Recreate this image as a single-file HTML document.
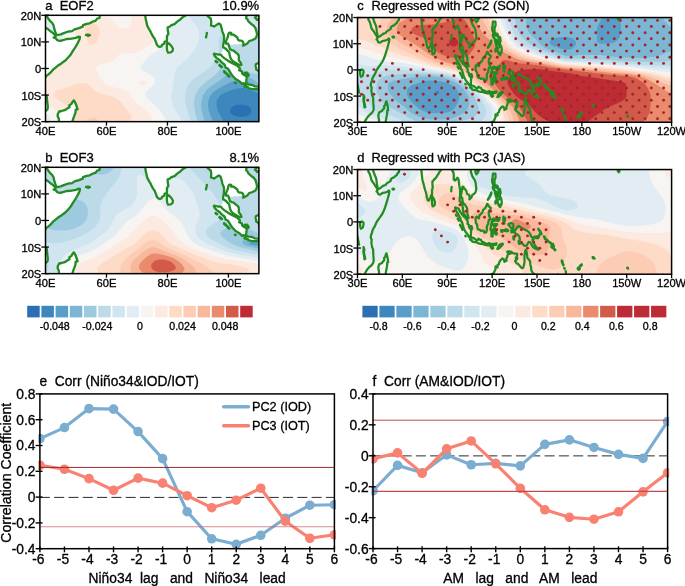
<!DOCTYPE html>
<html><head><meta charset="utf-8"><title>figure</title><style>html,body{margin:0;padding:0;background:#fff;}svg{display:block;will-change:transform;}text{font-family:'Liberation Sans', sans-serif;fill:#000;stroke:#000;stroke-width:0.3px;}</style>
</head><body>
<svg width="685" height="586" viewBox="0 0 685 586">
<rect width="685" height="586" fill="#fff"/>
<clipPath id="mca"><rect x="45.50" y="15.30" width="213.40" height="106.35"/></clipPath>
<g clip-path="url(#mca)">
<rect x="45.5" y="15.3" width="213.4" height="106.4" fill="#f7f4f2"/>
<g fill-rule="evenodd" stroke="none">
<path d="M60.7,121.7 152.2,121.7 152.3,120.3 151.7,117.7 150.7,115.7 149.2,113.7 145.1,109.7 138.0,104.4 135.0,101.7 132.6,99.1 128.8,93.7 126.3,91.2 124.8,90.3 121.7,89.1 113.2,87.1 109.5,85.9 106.5,84.4 103.4,81.9 101.0,79.1 98.4,75.1 96.5,71.1 96.0,68.5 96.3,67.1 97.2,65.8 98.8,64.7 101.9,63.6 109.3,61.8 112.4,60.5 114.4,59.2 118.7,54.9 120.2,53.7 121.7,53.0 124.8,52.6 132.4,53.2 135.4,52.9 137.0,52.4 140.0,50.8 150.2,44.5 153.6,41.9 155.4,39.2 156.2,36.6 156.4,33.9 156.3,29.9 155.3,24.6 154.0,20.6 152.2,17.4 150.2,15.3 130.5,15.3 131.4,16.6 131.9,18.0 132.0,19.3 131.9,20.6 131.0,23.3 129.3,25.6 127.8,26.9 126.3,27.8 123.2,28.6 121.7,28.6 120.2,28.2 118.7,27.5 116.9,25.9 112.8,20.6 111.4,19.3 109.5,18.1 105.6,16.6 100.3,15.3 68.1,15.3 68.2,19.3 68.8,21.9 70.0,24.6 74.5,32.2 75.9,36.6 76.2,40.6 75.6,43.2 75.0,44.5 72.9,47.2 71.4,48.4 68.4,50.3 65.3,51.9 59.2,54.6 53.1,56.9 48.5,58.0 45.5,58.4 45.5,103.1 54.6,109.3 58.1,112.3 60.0,115.0 61.0,117.7 61.1,120.3 60.7,121.7ZM143.1,84.5 144.6,84.3 146.1,83.5 146.6,83.1 146.5,81.8 144.6,80.8 143.1,80.6 141.5,80.8 139.6,81.8 139.4,83.1 140.0,83.6 141.5,84.3 143.1,84.5Z" fill="#fce9df"/>
<path d="M72.9,121.7 129.2,121.7 131.0,119.0 131.5,117.7 131.5,116.3 131.1,115.0 130.2,113.7 126.3,109.2 121.7,103.0 119.3,100.4 117.6,99.1 115.4,97.7 112.6,96.6 101.9,94.0 97.4,92.4 94.3,90.3 89.7,85.6 88.2,84.3 85.1,82.9 82.1,82.7 79.0,83.3 72.0,85.8 59.3,89.7 56.2,91.4 55.1,92.4 54.3,93.7 54.2,95.1 54.7,96.4 55.8,97.7 59.1,100.4 65.3,104.6 68.0,107.0 69.9,109.5 71.3,112.3 72.1,115.0 72.6,119.0 72.5,121.7 72.9,121.7ZM91.2,44.6 92.8,44.7 94.3,44.3 95.8,43.2 97.3,40.7 98.8,36.6 99.6,32.6 99.6,29.9 98.8,27.3 97.8,25.9 96.1,24.6 89.8,21.9 87.7,20.6 86.7,18.9 85.8,15.3 74.0,15.3 76.0,18.3 77.5,19.6 82.9,23.3 83.8,24.6 84.7,27.3 86.3,36.6 87.5,40.6 88.2,42.1 89.1,43.2 89.7,43.8 91.2,44.6Z" fill="#fddbc7"/>
<path d="M85.1,121.7 97.4,121.7 97.3,120.3 96.8,119.0 95.8,118.0 94.3,117.5 92.8,117.5 89.7,118.2 88.2,119.0 86.7,120.0 85.1,121.3 84.9,121.7 85.1,121.7Z" fill="#fcccb4"/>
<path d="M47.0,121.7 50.1,121.7 50.1,119.0 49.5,117.7 48.7,116.3 47.4,115.0 45.5,113.6 45.5,121.7 47.0,121.7ZM167.4,121.6 258.9,121.7 258.9,15.3 165.7,15.3 164.5,16.6 163.5,19.3 163.2,21.9 163.4,25.9 165.0,39.2 164.8,41.9 164.0,44.5 162.9,46.4 160.8,48.5 158.9,49.9 152.2,53.8 149.0,56.5 141.8,64.5 140.9,65.8 140.3,67.1 140.4,68.5 141.4,69.8 143.5,71.1 149.2,73.9 152.2,76.1 153.7,77.8 154.5,79.1 154.9,80.4 155.0,81.8 154.7,83.1 153.9,84.4 152.8,85.8 148.1,89.7 146.0,92.4 145.5,93.7 145.4,95.1 145.8,96.4 147.7,99.1 155.2,105.6 158.3,108.7 161.1,112.3 165.4,119.0 167.4,121.6ZM47.0,46.0 51.6,45.6 56.2,44.4 58.8,43.2 60.7,41.9 62.3,39.9 62.9,37.9 62.9,36.6 62.3,33.9 60.7,28.6 60.5,24.6 61.3,20.6 63.3,15.3 45.5,15.3 45.5,45.9 47.0,46.0Z" fill="#e2edf3"/>
<path d="M182.7,121.7 258.9,121.7 258.9,15.3 188.4,15.3 191.8,20.3 196.3,25.9 197.9,28.6 198.5,29.9 199.0,32.6 199.1,35.2 198.6,39.2 197.9,41.9 196.4,46.0 194.2,49.9 191.5,53.9 189.3,56.5 186.7,59.2 178.1,66.5 176.6,68.4 175.8,69.8 174.5,73.8 173.4,83.1 171.3,95.1 171.3,97.7 171.6,100.4 173.2,105.7 175.9,111.0 182.7,121.7ZM50.1,18.0 51.6,18.3 53.1,18.1 54.6,17.5 57.7,15.3 47.8,15.3 48.5,16.8 50.1,18.0Z" fill="#d1e5f0"/>
<path d="M191.8,121.7 258.9,121.7 258.9,28.6 256.0,27.3 249.8,22.9 248.2,22.3 246.7,22.0 243.7,22.2 240.6,23.1 237.6,24.4 229.9,28.2 225.4,31.3 223.8,32.7 221.5,35.2 220.6,36.6 219.3,39.2 218.6,41.9 218.6,44.5 219.3,51.2 218.9,53.9 217.9,56.5 215.4,60.5 211.6,65.6 208.6,68.7 205.4,71.1 195.1,77.8 191.8,80.4 190.3,81.9 188.4,84.4 186.4,88.4 185.7,91.1 185.1,95.1 185.1,99.1 185.5,103.0 186.6,108.4 188.5,115.0 191.0,121.7 191.8,121.7Z" fill="#bddae9"/>
<path d="M197.9,121.7 258.9,121.7 258.9,74.2 249.8,72.6 244.9,71.1 240.6,69.1 234.5,64.4 233.0,63.5 231.5,63.0 229.9,62.8 228.4,62.9 226.9,63.4 223.8,65.2 220.8,68.1 217.3,72.5 214.7,75.2 211.7,77.8 204.4,83.1 201.4,85.8 198.1,89.7 195.9,93.7 195.0,96.4 194.4,99.1 194.2,101.7 194.2,105.7 194.6,109.7 195.4,113.7 196.5,117.7 197.9,121.7ZM258.9,71.0 258.9,68.5 258.9,71.0Z" fill="#9ecae0"/>
<path d="M205.5,121.7 258.9,121.7 258.9,84.4 254.3,80.0 251.3,78.2 248.2,77.0 239.1,74.7 233.0,73.6 229.9,73.6 228.4,74.0 226.9,74.8 219.8,80.4 211.6,85.7 208.6,88.1 205.7,91.1 203.2,95.1 202.2,97.7 201.4,101.7 201.2,104.4 201.3,108.4 202.0,112.3 203.1,116.3 205.1,121.7 205.5,121.7Z" fill="#7cb6d5"/>
<path d="M213.2,121.7 258.9,121.7 258.9,88.6 251.3,83.5 248.2,81.9 243.7,80.7 240.6,80.3 237.6,80.4 234.5,80.9 229.9,82.6 219.3,88.0 214.7,90.9 211.7,93.7 209.9,96.4 208.8,99.1 208.1,103.0 208.2,107.0 208.9,111.0 210.2,115.0 213.2,121.7Z" fill="#589ec9"/>
<path d="M223.8,121.7 258.9,121.7 258.9,92.9 254.3,91.8 245.2,88.3 242.1,87.9 240.6,87.9 236.0,88.7 228.7,91.1 223.8,93.2 220.8,95.1 219.3,96.4 217.5,99.1 216.6,101.7 216.5,105.7 217.5,109.7 218.6,112.3 223.6,121.7 223.8,121.7Z" fill="#3c88be"/>
<path d="M237.6,116.5 240.6,116.9 243.7,116.8 246.7,116.0 248.2,115.2 250.0,113.7 250.8,112.3 251.1,111.0 251.1,109.7 250.5,108.4 249.8,107.4 248.2,106.3 245.2,105.3 242.1,104.7 237.6,104.8 236.0,105.1 233.0,106.5 231.5,107.8 230.2,109.7 229.9,111.0 230.3,112.3 231.4,113.7 233.0,114.8 234.5,115.6 237.6,116.5Z" fill="#2a70b2"/>
</g>
<path d="M228.1,43.7 L226.0,43.7 L226.0,41.1 L227.2,38.4 L228.1,36.0 L228.4,33.9 L229.3,32.6 L231.2,32.8 L231.2,34.7 L233.6,34.7 L235.4,36.0 L237.3,37.4 L237.9,39.5 L239.4,40.6 L241.8,40.7 L243.0,41.9 L242.4,43.7 L236.0,44.3 L230.2,44.8Z" fill="#fff"/>
<path d="M220.8,54.6 L223.2,48.3 L224.5,48.0 L226.3,49.3 L227.5,50.7 L229.0,51.7 L229.5,53.9 L230.2,57.3 L231.5,59.7 L232.7,61.0 L235.1,62.6 L238.8,64.8 L240.3,65.0 L240.0,68.5 L238.8,67.1 L237.3,65.8 L233.9,64.0 L231.8,62.9 L229.6,61.8 L227.8,60.5 L224.5,58.4 L222.3,56.5Z" fill="#fff"/>
<g stroke="#228b22" stroke-width="2.3" stroke-linejoin="round" stroke-linecap="round">
<path d="M-15.5,2.0 L37.0,2.0 L37.0,14.0 L37.3,17.4 L40.3,20.1 L42.1,23.3 L43.4,25.9 L45.2,27.5 L47.9,29.1 L50.7,31.5 L53.1,33.1 L55.0,35.0 L55.6,36.6 L53.7,37.6 L55.6,38.2 L57.4,40.3 L60.4,40.8 L63.8,39.9 L66.8,39.0 L69.9,38.8 L72.9,38.4 L76.0,37.9 L78.4,36.7 L79.9,37.0 L79.6,39.0 L78.7,41.1 L77.2,44.0 L75.4,47.2 L73.2,50.4 L70.8,54.4 L68.4,57.3 L65.3,60.5 L61.7,63.2 L57.7,65.8 L53.4,69.3 L50.4,72.7 L48.2,74.6 L46.1,76.2 L44.3,79.6 L42.8,81.8 L41.8,84.4 L44.0,86.6 L43.4,89.2 L44.0,91.9 L44.9,94.5 L46.7,96.4 L47.0,99.1 L47.3,103.0 L47.9,107.0 L47.3,109.7 L44.3,112.1 L39.7,114.2 L36.0,116.1 L32.1,119.0 L29.6,121.4 L29.0,124.3 L29.0,134.9 L-15.5,134.9Z" fill="#fff"/>
<path d="M43.1,2.0 L43.1,13.7 L46.1,15.3 L47.9,18.0 L49.8,20.6 L51.9,22.7 L53.4,24.9 L54.0,27.3 L54.6,29.9 L55.6,32.8 L56.2,34.7 L58.0,35.0 L60.7,34.4 L63.8,33.1 L68.4,31.5 L72.0,31.1 L74.5,29.4 L79.0,28.1 L82.7,26.7 L83.0,25.1 L86.7,23.8 L89.7,23.3 L92.1,21.9 L95.2,20.9 L97.3,18.5 L99.5,18.0 L99.8,15.3 L101.9,13.7 L103.4,2.0 L144.6,2.0 L145.2,13.7 L145.3,15.3 L145.5,18.0 L146.4,21.9 L147.3,25.9 L148.8,28.6 L150.4,31.3 L151.6,33.9 L153.1,36.6 L154.6,38.7 L155.9,41.9 L156.8,44.5 L158.0,46.1 L159.8,47.0 L161.7,46.1 L162.0,44.8 L164.4,43.7 L164.4,41.9 L166.8,41.1 L167.0,37.9 L166.8,36.6 L168.4,33.6 L167.7,29.9 L167.7,27.3 L169.9,26.5 L171.4,25.1 L174.5,24.1 L177.5,21.4 L179.9,19.8 L182.7,17.2 L185.1,15.8 L187.3,14.8 L188.8,12.6 L188.8,2.0 L205.5,2.0 L205.5,12.6 L206.8,14.8 L208.6,16.9 L210.7,18.5 L211.3,21.9 L211.0,25.4 L214.1,26.5 L216.2,25.1 L218.7,23.5 L220.5,24.6 L221.4,27.3 L222.3,31.3 L223.8,35.2 L224.1,37.9 L223.8,41.9 L223.2,44.5 L223.1,47.2 L224.5,48.0 L226.3,49.3 L227.5,50.7 L229.0,51.7 L229.5,53.9 L230.2,57.3 L231.5,59.7 L232.7,61.0 L235.1,62.6 L238.8,64.8 L240.3,65.0 L241.4,64.8 L240.6,62.4 L238.9,60.5 L238.8,57.8 L238.8,55.7 L237.9,54.1 L235.1,52.0 L233.6,50.7 L231.5,50.1 L229.9,49.1 L229.0,46.1 L228.1,43.7 L226.0,43.7 L226.0,41.1 L227.2,38.4 L228.1,36.0 L228.4,33.9 L229.3,32.6 L231.2,32.8 L231.2,34.7 L233.6,34.7 L235.4,36.0 L237.3,37.4 L237.9,39.5 L239.4,40.6 L241.8,40.7 L243.0,41.9 L243.7,44.5 L243.0,45.6 L244.6,45.1 L247.6,43.2 L249.1,41.1 L252.5,40.0 L255.5,38.4 L256.5,36.6 L257.1,34.2 L256.5,31.8 L255.5,28.1 L253.7,25.7 L251.6,24.3 L249.8,22.7 L248.2,21.1 L247.6,19.6 L246.1,18.0 L246.4,15.8 L248.5,14.5 L249.8,12.6 L249.8,2.0Z" fill="#fff"/>
<path d="M86.0,35.0 L87.9,34.6 L89.9,35.1 L87.9,35.8Z" fill="#fff"/>
<path d="M167.1,42.4 L168.4,43.2 L171.1,45.6 L172.9,48.5 L172.6,50.9 L170.8,52.3 L168.1,52.7 L167.1,50.4 L166.8,47.2 L167.1,44.8Z" fill="#fff"/>
<path d="M254.9,17.4 L257.4,20.1 L260.4,18.5 L261.9,16.4 L260.7,15.0 L257.4,15.6Z" fill="#fff"/>
<path d="M73.9,100.4 L75.7,103.6 L76.9,107.0 L77.5,109.4 L75.7,109.7 L75.4,112.9 L74.5,115.3 L73.5,117.9 L72.3,121.7 L71.4,124.3 L69.9,134.9 L59.2,134.9 L58.6,124.3 L58.9,121.7 L58.9,119.0 L57.7,116.3 L57.7,114.2 L59.2,111.5 L61.7,111.0 L64.7,110.2 L67.4,108.4 L69.6,107.3 L69.3,105.2 L71.4,104.1 L72.6,101.7Z" fill="#fff"/>
<path d="M206.9,32.8 L206.5,35.0 L206.0,37.4 L206.5,35.0Z" fill="#fff"/>
<path d="M214.1,53.7 L217.7,54.5 L220.8,54.6 L222.3,56.5 L224.5,58.4 L227.8,60.5 L229.6,61.8 L231.8,62.9 L233.9,64.0 L237.3,65.8 L238.8,67.1 L240.0,68.5 L239.1,70.3 L241.8,71.4 L242.1,73.3 L243.4,74.6 L246.7,76.5 L246.4,79.6 L246.2,82.3 L246.1,84.0 L244.6,83.9 L244.0,83.1 L242.1,83.9 L240.0,81.8 L237.3,79.9 L235.4,78.8 L233.0,76.2 L231.2,74.1 L229.5,71.1 L227.8,68.5 L225.7,67.7 L224.5,64.5 L221.7,62.4 L219.9,60.2 L216.8,58.1 L214.7,56.0 L213.8,54.1Z" fill="#fff"/>
<path d="M215.6,61.0 L217.4,62.0 L217.1,62.4 L215.6,61.6Z" fill="#fff"/>
<path d="M219.6,64.8 L222.0,66.9 L221.4,67.1 L219.3,65.3Z" fill="#fff"/>
<path d="M224.1,71.1 L226.3,73.0 L225.7,73.4 L224.1,71.9Z" fill="#fff"/>
<path d="M227.2,74.1 L229.6,76.5 L229.0,76.7 L227.2,74.7Z" fill="#fff"/>
<path d="M234.8,82.6 L235.7,83.1 L235.4,83.2Z" fill="#fff"/>
<path d="M244.3,73.0 L247.3,72.7 L248.8,75.4 L247.3,76.5 L246.1,74.6Z" fill="#fff"/>
<path d="M244.3,86.4 L246.7,84.2 L249.1,84.6 L252.2,85.0 L254.6,86.3 L257.4,86.7 L260.1,87.0 L261.6,85.5 L263.5,86.3 L266.8,86.8 L267.4,87.6 L269.6,88.9 L272.3,89.1 L272.6,91.3 L269.6,90.8 L266.5,90.8 L263.5,90.5 L260.4,90.0 L257.4,89.1 L254.3,89.1 L251.3,88.9 L248.2,88.1 L247.9,87.1 L245.2,86.7Z" fill="#fff"/>
<path d="M257.7,63.2 L259.8,64.0 L262.6,64.8 L263.2,62.1 L266.5,60.5 L269.6,58.6 L271.1,56.2 L273.8,55.2 L275.7,54.1 L277.5,52.3 L279.3,50.1 L281.2,50.9 L282.4,52.8 L283.6,52.9 L286.9,54.4 L285.1,56.5 L283.0,57.3 L282.4,59.2 L283.3,62.4 L286.0,65.8 L283.0,66.3 L281.8,68.5 L281.5,70.6 L279.6,71.9 L278.4,74.3 L278.7,76.5 L277.5,79.1 L273.2,79.4 L272.6,77.5 L269.6,77.2 L266.5,77.5 L264.1,76.5 L261.6,76.5 L259.5,75.1 L259.2,73.0 L258.6,71.1 L256.2,69.5 L256.2,67.7 L255.5,65.8 L255.9,64.2Z" fill="#fff"/>
</g>

</g>
<clipPath id="mcb"><rect x="45.50" y="167.30" width="213.40" height="106.35"/></clipPath>
<g clip-path="url(#mcb)">
<rect x="45.5" y="167.3" width="213.4" height="106.3" fill="#f7f4f2"/>
<g fill-rule="evenodd" stroke="none">
<path d="M76.0,273.6 258.9,273.6 258.9,264.0 229.9,259.8 220.8,258.1 213.2,255.9 199.5,251.4 194.9,249.6 187.4,245.7 183.5,243.1 180.2,240.4 177.6,237.8 172.8,231.1 169.5,227.1 165.5,223.1 161.3,219.6 156.8,216.5 155.2,215.8 153.7,215.5 152.2,215.6 150.7,216.0 149.2,216.9 144.6,220.4 138.7,225.8 129.7,235.1 124.6,239.1 109.9,248.4 100.4,254.1 92.8,258.0 83.6,261.8 79.2,264.3 77.5,265.9 75.9,268.3 75.3,271.0 75.4,272.3 76.0,273.6Z" fill="#fce9df"/>
<path d="M98.8,272.5 100.2,273.6 237.0,273.6 244.1,272.3 248.5,271.0 249.6,269.7 247.7,268.3 243.5,267.0 237.8,265.7 229.9,264.3 220.8,263.2 214.7,262.0 208.6,260.0 196.4,255.3 174.2,245.7 171.6,244.4 167.9,241.7 162.9,236.0 159.8,233.2 158.3,232.1 155.2,230.8 152.2,230.5 149.2,231.2 147.6,231.9 144.6,234.0 141.5,236.7 136.7,241.7 132.4,245.2 121.7,251.1 104.3,261.7 100.6,264.3 97.9,267.0 97.2,268.3 97.0,269.7 97.5,271.0 98.8,272.5Z" fill="#fddbc7"/>
<path d="M121.7,273.6 213.2,273.6 213.1,272.3 212.2,271.0 210.8,269.7 205.0,265.7 200.5,263.0 181.8,253.7 167.4,248.0 163.4,245.7 156.8,241.1 153.7,240.0 152.2,239.9 149.2,240.5 146.1,242.2 138.5,248.8 129.7,255.0 125.2,259.0 122.2,263.0 120.5,267.0 120.2,269.7 120.4,271.0 120.9,272.3 121.7,273.6Z" fill="#fcccb4"/>
<path d="M132.4,272.5 133.8,273.6 194.8,273.6 195.7,272.3 195.9,271.0 195.6,269.7 194.9,268.3 192.5,265.7 187.3,261.7 180.8,257.7 175.1,255.0 164.3,251.1 156.8,247.9 153.7,247.1 152.2,247.1 149.2,247.9 146.1,249.6 136.2,257.7 132.4,261.7 130.9,264.3 130.2,267.0 130.5,269.7 131.1,271.0 132.4,272.5Z" fill="#f7b89b"/>
<path d="M143.1,272.7 144.5,273.6 179.2,273.6 182.6,272.3 183.9,271.0 184.4,269.7 184.3,268.3 183.0,265.7 180.6,263.0 177.2,260.4 173.5,258.3 169.0,256.5 162.9,254.8 156.8,253.5 153.7,253.4 150.7,254.2 147.1,256.4 142.6,260.4 140.5,263.0 139.7,264.3 139.0,267.0 139.2,268.3 139.8,269.7 140.9,271.0 143.1,272.7Z" fill="#ea8b6e"/>
<path d="M155.2,271.2 158.3,272.0 161.3,272.3 165.9,272.2 170.5,271.5 172.5,271.0 174.8,269.7 175.6,268.3 175.7,267.0 175.2,265.7 173.5,263.7 170.7,261.7 169.0,260.9 165.9,260.0 162.9,259.5 158.3,259.6 155.7,260.4 153.6,261.7 152.2,263.3 151.6,264.3 151.2,265.7 151.2,267.0 151.7,268.3 152.8,269.7 155.2,271.2Z" fill="#d25a4b"/>
<path d="M47.0,273.6 65.1,273.6 65.9,269.7 67.3,265.7 68.8,263.0 71.4,260.1 74.5,257.8 77.5,256.2 89.7,251.7 94.3,249.5 100.6,245.7 110.3,239.1 113.7,236.4 116.5,233.8 123.2,225.5 126.3,222.3 128.5,220.5 135.4,215.9 139.4,212.5 141.8,209.8 147.6,202.1 149.2,200.6 151.4,199.2 152.2,198.8 153.7,198.6 155.2,198.8 156.8,199.4 158.5,200.5 161.2,203.2 165.4,208.5 167.4,210.7 176.6,218.1 179.6,221.0 181.5,223.1 183.2,225.8 187.5,235.1 189.1,237.8 191.3,240.4 192.7,241.7 196.3,244.4 198.9,245.7 202.5,247.2 219.3,253.2 225.2,255.0 234.5,256.9 258.9,260.7 258.9,167.3 45.5,167.3 45.5,273.6 47.0,273.6Z" fill="#e2edf3"/>
<path d="M47.0,273.6 56.3,273.6 57.4,271.0 59.7,263.0 60.7,260.4 62.3,257.7 64.6,255.0 68.2,252.4 71.4,250.7 83.6,246.1 88.2,244.0 92.8,241.2 101.9,235.0 106.5,231.2 108.8,228.5 111.3,224.5 114.5,217.8 115.6,216.1 117.1,214.4 120.2,212.1 129.3,207.3 132.4,204.7 133.9,202.7 135.0,200.5 136.4,196.5 137.0,193.9 137.3,189.9 137.1,179.3 137.3,177.9 138.5,175.6 140.0,174.8 141.5,175.0 143.1,175.9 145.6,177.9 148.0,179.3 150.7,180.2 153.7,180.8 159.8,181.4 164.4,181.2 167.4,180.6 172.0,178.8 175.1,178.1 178.1,178.3 179.6,178.8 182.7,180.6 185.7,183.3 188.8,186.8 191.8,191.1 193.4,193.7 195.1,197.9 199.3,211.2 199.7,213.8 199.5,216.5 196.2,224.5 195.6,227.1 195.4,229.8 195.7,232.4 196.6,235.1 197.9,237.2 199.5,238.9 202.5,241.2 206.0,243.1 221.5,249.7 226.9,251.7 234.5,253.5 258.9,257.8 258.9,167.3 45.5,167.3 45.5,273.6 47.0,273.6Z" fill="#d1e5f0"/>
<path d="M46.8,272.3 48.2,269.7 48.6,268.3 48.7,265.7 48.0,263.0 47.2,261.7 45.5,260.4 45.5,273.6 46.8,272.3ZM254.3,253.9 258.9,255.0 258.9,167.3 189.5,167.3 191.8,170.4 194.9,173.8 210.2,189.9 212.3,192.6 217.6,200.5 221.9,205.9 223.3,208.5 223.6,209.8 223.5,212.5 222.5,215.2 220.8,217.8 218.3,220.5 216.6,221.8 208.7,227.1 207.3,228.5 206.4,229.8 205.8,231.1 205.6,232.4 205.8,233.8 207.1,236.0 208.9,237.8 213.1,240.4 223.3,245.7 228.4,248.0 236.0,250.2 254.3,253.9ZM51.6,243.1 56.2,243.1 62.3,242.2 69.9,240.3 76.0,238.3 80.6,236.3 86.7,233.0 92.8,228.9 96.2,225.8 98.3,223.1 99.0,221.8 99.9,219.1 100.2,216.5 100.2,207.2 100.7,204.5 101.6,201.9 102.9,199.2 104.9,196.0 110.3,188.6 115.8,181.9 118.5,177.9 119.8,175.3 120.7,172.6 121.7,167.3 45.5,167.3 45.5,242.3 51.6,243.1Z" fill="#bddae9"/>
<path d="M257.4,251.4 258.9,251.9 258.9,233.8 255.9,232.1 251.3,230.0 245.2,228.1 239.1,226.9 234.5,226.5 229.9,227.1 226.0,228.5 222.3,230.5 220.5,232.4 220.2,233.8 220.7,235.1 221.7,236.4 226.6,240.4 233.1,244.4 236.1,245.7 239.9,247.1 257.4,251.4ZM51.6,229.8 54.6,230.3 59.2,230.6 63.8,230.5 68.4,229.9 72.9,228.9 76.0,227.8 79.0,226.4 82.1,224.4 83.6,223.1 85.9,220.5 87.2,217.8 87.8,215.2 88.0,212.5 87.5,208.5 86.6,205.9 85.1,203.4 83.4,201.9 80.7,200.5 77.5,199.8 74.5,199.5 69.9,199.5 65.3,200.0 60.7,201.1 54.6,203.1 53.1,203.3 51.6,203.2 50.1,202.7 45.5,200.8 45.5,222.5 46.4,225.8 47.1,227.1 48.5,228.5 51.6,229.8ZM76.0,175.4 77.5,175.6 79.0,175.4 85.1,173.5 88.2,172.9 91.2,173.0 97.3,174.2 100.4,174.5 104.9,174.2 108.0,173.2 109.5,172.3 112.6,169.6 114.2,167.3 74.2,167.3 73.3,168.6 72.8,170.0 72.7,171.3 72.9,172.6 73.7,173.9 74.5,174.7 76.0,175.4Z" fill="#9ecae0"/>
<path d="M252.8,247.2 258.9,248.3 258.9,239.1 252.8,238.6 248.2,238.9 245.2,239.7 243.7,240.4 242.4,241.7 242.4,243.1 243.7,244.4 246.7,245.8 252.8,247.2Z" fill="#7cb6d5"/>
<path d="M251.3,244.7 254.3,245.3 258.9,245.5 258.9,241.6 254.3,241.3 250.8,241.7 249.0,243.1 250.3,244.4 251.3,244.7Z" fill="#589ec9"/>
</g>
<path d="M228.1,195.7 L226.0,195.7 L226.0,193.1 L227.2,190.4 L228.1,188.0 L228.4,185.9 L229.3,184.6 L231.2,184.8 L231.2,186.7 L233.6,186.7 L235.4,188.0 L237.3,189.4 L237.9,191.5 L239.4,192.6 L241.8,192.7 L243.0,193.9 L242.4,195.7 L236.0,196.3 L230.2,196.8Z" fill="#fff"/>
<path d="M220.8,206.6 L223.2,200.3 L224.5,200.0 L226.3,201.3 L227.5,202.7 L229.0,203.7 L229.5,205.9 L230.2,209.3 L231.5,211.7 L232.7,213.0 L235.1,214.6 L238.8,216.8 L240.3,217.0 L240.0,220.5 L238.8,219.1 L237.3,217.8 L233.9,216.0 L231.8,214.9 L229.6,213.8 L227.8,212.5 L224.5,210.4 L222.3,208.5Z" fill="#fff"/>
<g stroke="#228b22" stroke-width="2.3" stroke-linejoin="round" stroke-linecap="round">
<path d="M-15.5,154.0 L37.0,154.0 L37.0,166.0 L37.3,169.4 L40.3,172.1 L42.1,175.3 L43.4,177.9 L45.2,179.5 L47.9,181.1 L50.7,183.5 L53.1,185.1 L55.0,187.0 L55.6,188.6 L53.7,189.6 L55.6,190.2 L57.4,192.3 L60.4,192.8 L63.8,191.9 L66.8,191.0 L69.9,190.8 L72.9,190.4 L76.0,189.9 L78.4,188.7 L79.9,189.0 L79.6,191.0 L78.7,193.1 L77.2,196.0 L75.4,199.2 L73.2,202.4 L70.8,206.4 L68.4,209.3 L65.3,212.5 L61.7,215.2 L57.7,217.8 L53.4,221.3 L50.4,224.7 L48.2,226.6 L46.1,228.2 L44.3,231.6 L42.8,233.8 L41.8,236.4 L44.0,238.6 L43.4,241.2 L44.0,243.9 L44.9,246.5 L46.7,248.4 L47.0,251.1 L47.3,255.0 L47.9,259.0 L47.3,261.7 L44.3,264.1 L39.7,266.2 L36.0,268.1 L32.1,271.0 L29.6,273.4 L29.0,276.3 L29.0,286.9 L-15.5,286.9Z" fill="#fff"/>
<path d="M43.1,154.0 L43.1,165.7 L46.1,167.3 L47.9,170.0 L49.8,172.6 L51.9,174.7 L53.4,176.9 L54.0,179.3 L54.6,181.9 L55.6,184.8 L56.2,186.7 L58.0,187.0 L60.7,186.4 L63.8,185.1 L68.4,183.5 L72.0,183.1 L74.5,181.4 L79.0,180.1 L82.7,178.7 L83.0,177.1 L86.7,175.8 L89.7,175.3 L92.1,173.9 L95.2,172.9 L97.3,170.5 L99.5,170.0 L99.8,167.3 L101.9,165.7 L103.4,154.0 L144.6,154.0 L145.2,165.7 L145.3,167.3 L145.5,170.0 L146.4,173.9 L147.3,177.9 L148.8,180.6 L150.4,183.3 L151.6,185.9 L153.1,188.6 L154.6,190.7 L155.9,193.9 L156.8,196.5 L158.0,198.1 L159.8,199.0 L161.7,198.1 L162.0,196.8 L164.4,195.7 L164.4,193.9 L166.8,193.1 L167.0,189.9 L166.8,188.6 L168.4,185.6 L167.7,181.9 L167.7,179.3 L169.9,178.5 L171.4,177.1 L174.5,176.1 L177.5,173.4 L179.9,171.8 L182.7,169.2 L185.1,167.8 L187.3,166.8 L188.8,164.6 L188.8,154.0 L205.5,154.0 L205.5,164.6 L206.8,166.8 L208.6,168.9 L210.7,170.5 L211.3,173.9 L211.0,177.4 L214.1,178.5 L216.2,177.1 L218.7,175.5 L220.5,176.6 L221.4,179.3 L222.3,183.3 L223.8,187.2 L224.1,189.9 L223.8,193.9 L223.2,196.5 L223.1,199.2 L224.5,200.0 L226.3,201.3 L227.5,202.7 L229.0,203.7 L229.5,205.9 L230.2,209.3 L231.5,211.7 L232.7,213.0 L235.1,214.6 L238.8,216.8 L240.3,217.0 L241.4,216.8 L240.6,214.4 L238.9,212.5 L238.8,209.8 L238.8,207.7 L237.9,206.1 L235.1,204.0 L233.6,202.7 L231.5,202.1 L229.9,201.1 L229.0,198.1 L228.1,195.7 L226.0,195.7 L226.0,193.1 L227.2,190.4 L228.1,188.0 L228.4,185.9 L229.3,184.6 L231.2,184.8 L231.2,186.7 L233.6,186.7 L235.4,188.0 L237.3,189.4 L237.9,191.5 L239.4,192.6 L241.8,192.7 L243.0,193.9 L243.7,196.5 L243.0,197.6 L244.6,197.1 L247.6,195.2 L249.1,193.1 L252.5,192.0 L255.5,190.4 L256.5,188.6 L257.1,186.2 L256.5,183.8 L255.5,180.1 L253.7,177.7 L251.6,176.3 L249.8,174.7 L248.2,173.1 L247.6,171.6 L246.1,170.0 L246.4,167.8 L248.5,166.5 L249.8,164.6 L249.8,154.0Z" fill="#fff"/>
<path d="M86.0,187.0 L87.9,186.6 L89.9,187.1 L87.9,187.8Z" fill="#fff"/>
<path d="M167.1,194.4 L168.4,195.2 L171.1,197.6 L172.9,200.5 L172.6,202.9 L170.8,204.3 L168.1,204.7 L167.1,202.4 L166.8,199.2 L167.1,196.8Z" fill="#fff"/>
<path d="M254.9,169.4 L257.4,172.1 L260.4,170.5 L261.9,168.4 L260.7,167.0 L257.4,167.6Z" fill="#fff"/>
<path d="M73.9,252.4 L75.7,255.6 L76.9,259.0 L77.5,261.4 L75.7,261.7 L75.4,264.9 L74.5,267.3 L73.5,269.9 L72.3,273.6 L71.4,276.3 L69.9,286.9 L59.2,286.9 L58.6,276.3 L58.9,273.6 L58.9,271.0 L57.7,268.3 L57.7,266.2 L59.2,263.5 L61.7,263.0 L64.7,262.2 L67.4,260.4 L69.6,259.3 L69.3,257.2 L71.4,256.1 L72.6,253.7Z" fill="#fff"/>
<path d="M206.9,184.8 L206.5,187.0 L206.0,189.4 L206.5,187.0Z" fill="#fff"/>
<path d="M214.1,205.7 L217.7,206.5 L220.8,206.6 L222.3,208.5 L224.5,210.4 L227.8,212.5 L229.6,213.8 L231.8,214.9 L233.9,216.0 L237.3,217.8 L238.8,219.1 L240.0,220.5 L239.1,222.3 L241.8,223.4 L242.1,225.3 L243.4,226.6 L246.7,228.5 L246.4,231.6 L246.2,234.3 L246.1,236.0 L244.6,235.9 L244.0,235.1 L242.1,235.9 L240.0,233.8 L237.3,231.9 L235.4,230.8 L233.0,228.2 L231.2,226.1 L229.5,223.1 L227.8,220.5 L225.7,219.7 L224.5,216.5 L221.7,214.4 L219.9,212.2 L216.8,210.1 L214.7,208.0 L213.8,206.1Z" fill="#fff"/>
<path d="M215.6,213.0 L217.4,214.0 L217.1,214.4 L215.6,213.6Z" fill="#fff"/>
<path d="M219.6,216.8 L222.0,218.9 L221.4,219.1 L219.3,217.3Z" fill="#fff"/>
<path d="M224.1,223.1 L226.3,225.0 L225.7,225.4 L224.1,223.9Z" fill="#fff"/>
<path d="M227.2,226.1 L229.6,228.5 L229.0,228.7 L227.2,226.7Z" fill="#fff"/>
<path d="M234.8,234.6 L235.7,235.1 L235.4,235.2Z" fill="#fff"/>
<path d="M244.3,225.0 L247.3,224.7 L248.8,227.4 L247.3,228.5 L246.1,226.6Z" fill="#fff"/>
<path d="M244.3,238.4 L246.7,236.2 L249.1,236.6 L252.2,237.0 L254.6,238.3 L257.4,238.7 L260.1,239.0 L261.6,237.5 L263.5,238.3 L266.8,238.8 L267.4,239.6 L269.6,240.9 L272.3,241.1 L272.6,243.3 L269.6,242.8 L266.5,242.8 L263.5,242.5 L260.4,242.0 L257.4,241.1 L254.3,241.1 L251.3,240.9 L248.2,240.1 L247.9,239.1 L245.2,238.7Z" fill="#fff"/>
<path d="M257.7,215.2 L259.8,216.0 L262.6,216.8 L263.2,214.1 L266.5,212.5 L269.6,210.6 L271.1,208.2 L273.8,207.2 L275.7,206.1 L277.5,204.3 L279.3,202.1 L281.2,202.9 L282.4,204.8 L283.6,204.9 L286.9,206.4 L285.1,208.5 L283.0,209.3 L282.4,211.2 L283.3,214.4 L286.0,217.8 L283.0,218.3 L281.8,220.5 L281.5,222.6 L279.6,223.9 L278.4,226.3 L278.7,228.5 L277.5,231.1 L273.2,231.4 L272.6,229.5 L269.6,229.2 L266.5,229.5 L264.1,228.5 L261.6,228.5 L259.5,227.1 L259.2,225.0 L258.6,223.1 L256.2,221.5 L256.2,219.7 L255.5,217.8 L255.9,216.2Z" fill="#fff"/>
</g>

</g>
<clipPath id="mcc"><rect x="357.50" y="17.55" width="314.10" height="104.70"/></clipPath>
<g clip-path="url(#mcc)">
<rect x="357.5" y="17.6" width="314.1" height="104.7" fill="#f7f4f2"/>
<g fill-rule="evenodd" stroke="none">
<path d="M359.0,122.2 368.7,122.2 363.6,120.9 357.5,119.9 357.5,122.2 359.0,122.2ZM501.1,122.2 671.6,122.2 671.6,76.0 661.1,73.7 652.2,72.0 626.7,68.5 610.3,66.8 565.4,63.6 560.9,62.7 551.9,60.4 540.3,58.1 535.1,56.8 531.5,55.5 519.0,50.2 514.5,47.7 511.3,45.0 506.8,39.8 502.5,33.3 499.0,25.4 497.0,20.2 496.3,17.6 357.5,17.6 357.5,47.6 362.0,48.4 369.5,50.5 388.0,56.8 406.9,60.4 431.5,67.3 450.2,71.4 457.6,73.8 463.6,76.4 465.7,77.8 468.2,79.7 472.7,84.5 475.7,87.2 486.2,94.8 494.4,102.6 496.8,105.2 498.1,107.3 498.8,109.2 500.3,117.0 500.5,122.2 501.1,122.2Z" fill="#fce9df"/>
<path d="M505.6,122.2 671.6,122.2 671.6,78.8 652.2,73.7 644.7,72.4 631.2,70.4 608.8,68.0 583.4,65.9 568.4,65.0 563.9,64.4 550.4,61.3 535.5,58.4 529.8,56.8 522.0,53.6 516.0,50.8 510.9,47.7 507.1,44.4 503.4,39.8 499.3,33.3 494.3,22.8 492.2,17.6 357.5,17.6 357.5,39.0 362.0,39.7 366.5,41.1 375.8,45.0 384.4,48.4 391.9,51.9 396.4,53.6 408.4,57.3 434.4,66.0 451.7,70.3 461.5,73.8 465.2,75.5 468.4,77.8 475.7,85.0 489.0,94.8 495.1,100.3 498.7,103.9 500.7,106.5 502.0,109.2 504.1,117.0 504.8,122.2 505.6,122.2Z" fill="#fddbc7"/>
<path d="M510.1,122.2 671.6,122.2 671.6,81.7 668.6,81.0 650.5,75.1 643.2,73.5 628.2,71.4 602.2,68.6 563.9,65.5 559.4,64.7 548.4,62.0 532.5,59.2 526.5,57.5 520.5,55.1 513.1,51.3 506.9,47.7 503.9,45.0 501.8,42.4 494.9,31.9 489.7,22.8 487.3,17.6 382.5,17.6 379.7,21.5 378.3,24.1 377.4,26.7 377.0,29.3 377.2,31.9 377.6,33.3 379.3,35.9 381.4,37.9 384.3,39.8 399.8,49.0 422.9,59.4 439.8,65.6 453.2,69.1 465.2,73.5 468.1,75.1 469.8,76.4 477.2,83.8 493.8,96.1 501.7,103.9 503.8,106.5 505.3,109.2 508.3,117.0 509.0,119.6 509.3,122.2 510.1,122.2Z" fill="#fcccb4"/>
<path d="M514.5,122.2 671.6,122.2 671.6,85.8 668.6,84.9 648.0,76.4 643.3,75.1 640.2,74.5 629.7,72.9 601.5,69.9 588.7,68.6 562.4,66.4 541.7,62.0 529.5,60.1 522.3,58.1 517.5,56.1 506.3,50.3 504.1,48.9 501.0,46.3 498.9,43.7 495.1,38.3 489.8,31.9 487.9,29.3 484.0,22.8 481.5,17.6 393.5,17.6 389.7,21.5 388.7,22.8 387.4,25.4 386.8,28.0 386.7,30.6 387.0,31.9 387.7,33.3 390.2,35.9 393.9,38.5 406.6,46.3 418.8,53.0 427.3,58.1 442.8,64.4 451.7,66.5 456.2,67.9 466.7,71.8 470.5,73.8 472.0,75.1 475.7,79.2 478.4,81.7 484.6,86.3 490.1,90.8 495.7,94.8 506.4,105.2 508.5,107.9 510.7,111.8 512.8,117.0 514.0,122.2 514.5,122.2Z" fill="#f7b89b"/>
<path d="M520.5,122.2 671.6,122.2 671.6,94.5 656.3,84.3 649.6,80.4 644.0,77.8 640.2,76.4 635.7,75.4 626.7,74.1 611.8,72.9 586.8,69.9 562.4,67.7 554.9,66.4 540.4,63.4 525.0,61.1 520.5,60.1 517.5,59.0 502.6,51.8 499.6,49.8 497.1,47.7 492.1,41.8 485.3,35.9 482.9,33.3 479.5,28.0 475.3,20.2 474.2,17.5 409.2,17.6 403.9,20.0 401.3,21.5 399.7,22.8 398.5,24.1 397.2,26.7 396.7,29.3 396.7,30.6 397.1,31.9 397.9,33.2 399.2,34.6 402.4,36.8 409.9,41.2 420.3,48.1 430.8,55.5 435.8,58.1 444.7,62.0 448.7,63.1 460.7,65.2 466.7,66.6 471.2,68.4 474.2,70.3 475.7,72.0 478.4,76.4 479.6,77.8 486.1,83.1 492.9,89.5 498.1,93.5 504.1,99.3 509.6,103.9 512.3,106.5 514.2,109.2 516.2,113.1 518.3,118.3 519.4,122.2 520.5,122.2Z" fill="#ea8b6e"/>
<path d="M528.0,122.2 642.6,122.2 646.2,118.6 647.5,117.0 649.3,113.1 650.3,107.9 650.7,97.4 650.5,94.8 649.7,92.1 647.9,88.2 646.1,85.6 643.7,83.0 639.9,80.4 637.4,79.1 634.2,77.8 629.7,76.6 625.2,76.0 607.3,74.6 560.9,69.1 551.9,67.7 538.5,65.2 519.0,63.2 514.5,62.3 508.6,60.4 505.6,60.0 504.1,60.0 502.0,60.7 501.1,61.8 498.9,66.0 494.7,71.2 493.0,73.8 492.4,75.1 492.2,76.4 492.4,77.8 493.2,80.4 495.1,84.3 498.1,88.2 507.1,97.4 515.8,103.9 519.7,107.9 523.0,113.1 527.3,120.9 527.8,122.2 528.0,122.2ZM456.2,58.1 462.2,58.3 465.2,57.6 466.7,56.8 468.3,55.5 470.5,52.9 474.3,47.7 475.4,45.0 475.5,42.4 474.8,39.8 469.6,28.0 466.7,22.7 465.2,20.8 462.2,18.2 460.7,17.7 459.2,17.6 457.7,17.9 447.2,21.7 441.3,23.1 436.8,24.0 432.3,24.5 420.3,25.0 417.3,25.4 414.3,26.3 412.2,28.0 411.5,29.3 411.4,30.6 412.0,31.9 412.8,32.9 415.8,34.8 423.3,37.9 426.2,39.8 427.8,41.8 430.5,46.3 433.1,49.0 436.6,51.6 441.3,54.2 445.7,56.1 450.2,57.2 456.2,58.1Z" fill="#d25a4b"/>
<path d="M549.0,121.4 550.4,122.2 587.4,122.2 588.7,120.9 593.8,117.0 604.3,109.4 608.8,107.0 619.2,102.5 622.2,100.9 625.0,98.7 625.9,97.4 626.6,94.8 626.6,88.2 626.1,84.3 625.1,83.0 621.7,81.7 607.3,79.8 595.7,77.8 583.4,76.2 569.9,73.3 540.0,69.2 534.0,68.9 525.0,69.6 519.0,70.8 514.5,72.5 512.4,73.8 510.1,76.0 508.8,77.8 507.8,80.4 507.5,83.0 507.8,84.3 508.3,85.6 510.1,88.4 513.7,93.5 516.0,96.1 519.3,98.7 525.6,102.6 529.1,105.2 531.7,107.9 535.5,112.5 538.5,115.3 543.0,118.4 549.0,121.4ZM453.2,46.6 454.7,46.5 456.2,45.9 457.2,45.0 458.0,43.7 458.2,42.4 457.9,41.1 457.2,39.8 456.2,38.8 454.7,38.1 453.2,38.0 451.7,38.5 450.1,39.8 449.2,41.1 448.9,42.4 449.0,43.7 449.8,45.0 451.7,46.3 453.2,46.6Z" fill="#bd2c34"/>
<path d="M379.9,121.5 381.3,122.2 495.9,122.2 496.3,118.3 496.2,115.7 495.5,109.2 495.1,107.8 493.5,105.2 487.6,99.4 483.4,94.8 474.2,88.2 466.6,80.4 463.7,78.3 460.3,76.4 453.8,73.8 448.7,72.3 428.3,68.6 405.4,63.3 399.4,62.4 382.9,60.8 376.9,59.7 372.5,58.5 362.0,54.6 357.5,53.6 357.5,114.1 364.7,117.0 375.4,119.8 379.9,121.5ZM668.6,72.6 671.6,73.0 671.6,17.6 500.0,17.6 500.6,20.2 501.9,24.1 505.6,32.5 509.4,38.5 512.4,42.4 514.5,44.9 517.5,47.2 520.7,49.0 537.0,55.6 541.2,56.8 551.9,59.2 560.9,61.5 565.4,62.4 583.4,63.6 625.2,66.8 644.7,69.2 668.6,72.6Z" fill="#e2edf3"/>
<path d="M390.4,121.2 392.0,122.2 490.0,122.2 491.4,117.0 491.7,114.4 491.7,110.5 491.1,107.9 490.4,106.5 484.7,100.0 481.8,96.1 480.5,94.8 473.1,89.5 466.7,82.6 464.1,80.4 459.5,77.8 453.2,75.0 448.7,73.6 444.3,72.8 427.8,70.4 403.9,66.4 397.9,65.9 388.9,65.5 382.9,65.6 374.0,66.1 369.5,66.1 363.5,65.3 357.5,63.8 357.5,104.7 359.0,106.0 363.1,110.5 364.6,111.8 366.8,113.1 371.0,114.8 384.4,118.7 390.4,121.2ZM658.1,68.6 671.6,69.7 671.6,17.6 503.8,17.6 504.4,20.2 505.6,23.8 509.1,31.9 513.1,38.5 517.1,43.7 520.3,46.3 522.9,47.7 540.0,54.4 559.4,59.9 565.4,61.2 584.8,62.3 596.5,63.4 625.2,65.3 658.1,68.6Z" fill="#d1e5f0"/>
<path d="M403.9,121.6 404.9,122.2 480.8,122.2 483.1,119.6 484.7,117.0 485.9,113.1 486.1,109.2 485.1,106.5 478.4,96.1 477.0,94.8 471.2,90.3 465.2,83.6 463.0,81.7 458.4,79.1 452.8,76.4 448.7,75.1 442.4,73.8 415.8,71.0 400.9,69.9 390.4,69.9 384.4,70.4 380.9,71.2 371.0,74.5 363.5,75.8 357.5,76.3 357.5,90.1 360.5,91.4 362.0,92.5 364.2,94.8 366.5,98.1 369.3,103.9 370.7,106.5 373.2,109.2 375.4,110.5 376.9,111.1 385.9,113.8 393.4,116.6 400.4,119.6 403.9,121.6ZM643.2,64.7 656.6,65.7 671.6,65.8 671.6,17.6 508.5,17.6 509.8,22.8 514.0,33.3 517.1,38.5 520.3,42.4 523.5,45.0 526.2,46.3 542.3,52.9 558.0,58.1 562.4,59.4 565.4,59.9 569.9,60.3 586.3,60.8 643.2,64.7Z" fill="#bddae9"/>
<path d="M415.8,121.0 418.6,122.2 459.0,122.2 462.2,120.8 471.2,118.2 473.8,117.0 475.7,115.7 477.2,114.1 478.3,111.8 478.7,109.2 478.3,106.5 475.4,98.7 474.0,96.1 468.6,90.8 464.3,85.6 462.2,83.7 459.3,81.7 454.1,79.1 450.2,77.4 447.2,76.4 439.8,75.0 432.3,74.3 420.3,73.7 414.3,73.6 406.5,73.8 393.4,74.7 387.4,75.4 382.9,77.1 379.9,79.0 378.4,80.4 377.4,81.7 376.9,83.0 376.3,88.2 376.4,90.8 377.3,93.5 380.1,98.7 383.1,102.6 385.9,105.0 388.2,106.5 400.9,113.3 409.7,118.3 415.8,121.0ZM652.2,62.1 661.1,61.9 671.6,60.7 671.6,17.6 514.7,17.6 516.0,24.1 517.6,29.3 519.0,33.2 521.7,37.2 525.0,40.5 529.7,43.7 539.8,49.0 544.5,51.0 553.4,54.1 560.9,57.2 564.0,58.1 568.4,58.6 589.3,58.8 625.2,61.2 652.2,62.1Z" fill="#9ecae0"/>
<path d="M424.8,118.3 429.3,119.2 433.8,119.6 444.3,119.5 448.7,119.2 451.7,118.5 455.8,117.0 461.2,114.4 465.4,111.8 466.7,110.5 467.6,109.2 468.7,106.5 469.2,102.6 469.0,98.7 468.3,96.1 467.6,94.8 463.7,89.2 461.7,86.9 456.4,83.0 450.2,79.9 447.2,78.9 442.9,77.8 433.8,76.4 421.9,76.4 412.8,77.3 393.4,80.8 390.5,81.7 388.7,83.0 388.1,84.3 387.8,86.9 387.9,89.5 388.2,90.8 388.9,92.1 390.7,94.8 395.1,100.0 398.3,102.6 403.9,106.6 409.9,111.8 412.8,113.9 417.3,116.0 424.8,118.3ZM616.3,56.9 625.2,57.6 637.2,57.8 644.7,57.7 652.2,57.1 655.1,56.7 659.8,55.5 671.6,50.5 671.6,28.5 663.3,18.9 662.5,17.6 526.2,17.6 526.1,21.5 526.5,25.4 527.3,29.3 528.4,31.9 530.6,34.6 537.0,40.3 541.0,45.0 544.7,47.7 547.4,49.0 556.4,52.1 563.9,55.3 566.9,56.0 571.4,56.0 581.9,54.7 589.3,54.7 599.8,55.1 616.3,56.9Z" fill="#7cb6d5"/>
<path d="M432.3,113.1 441.3,113.0 447.2,112.4 450.2,111.5 452.0,110.5 453.6,109.2 455.6,106.5 457.2,103.9 458.5,101.3 459.2,98.7 459.4,96.1 459.3,94.8 458.4,92.1 456.8,89.5 455.7,88.2 452.4,85.6 450.2,84.3 447.4,83.0 442.7,81.7 433.8,80.4 427.8,80.6 422.1,81.7 414.3,84.3 411.5,85.6 409.4,86.9 408.0,88.2 407.2,89.5 406.9,90.8 407.0,93.5 407.6,96.1 408.2,97.4 411.0,101.3 415.8,106.1 420.3,109.4 423.3,111.0 426.3,112.1 429.3,112.7 432.3,113.1ZM562.4,49.1 565.4,49.8 568.4,49.8 571.3,49.0 572.9,48.1 574.9,46.3 575.7,45.0 576.1,43.7 575.9,42.4 575.4,41.1 574.3,39.8 572.5,38.5 569.9,37.5 566.9,37.1 562.4,37.1 557.9,37.6 554.9,38.1 551.9,39.1 550.4,40.2 549.8,41.1 549.5,42.4 549.8,43.7 551.0,45.0 553.6,46.3 562.4,49.1ZM602.8,43.7 608.8,43.7 613.3,42.9 616.3,41.3 617.8,39.8 618.7,38.5 619.5,37.2 620.4,34.6 621.0,30.6 621.0,26.7 620.6,22.8 619.1,17.6 602.5,17.6 599.9,21.5 597.8,25.4 596.8,29.3 596.7,34.6 596.9,39.8 597.1,41.1 597.8,42.4 598.3,42.8 599.8,43.4 602.8,43.7Z" fill="#589ec9"/>
<path d="M436.8,94.3 438.3,94.2 438.9,93.5 439.2,92.1 438.3,90.8 436.8,90.8 435.8,92.1 435.9,93.5 436.8,94.3Z" fill="#3c88be"/>
</g>
<g stroke="#228b22" stroke-width="2.25" stroke-linejoin="round" stroke-linecap="round">
<path d="M342.5,4.5 L368.3,4.5 L368.3,16.2 L368.4,19.6 L369.9,22.3 L370.8,25.4 L371.4,28.0 L372.3,29.6 L373.7,31.2 L375.0,33.5 L376.2,35.1 L377.1,36.9 L377.4,38.5 L376.5,39.5 L377.4,40.1 L378.3,42.2 L379.8,42.7 L381.4,41.8 L382.9,40.8 L384.4,40.7 L385.9,40.3 L387.4,39.8 L388.6,38.6 L389.4,38.9 L389.2,40.8 L388.8,42.9 L388.0,45.8 L387.1,49.0 L386.1,52.1 L384.9,56.0 L383.7,58.9 L382.2,62.0 L380.4,64.7 L378.4,67.3 L376.3,70.7 L374.9,74.1 L373.8,75.9 L372.8,77.5 L371.9,80.9 L371.1,83.0 L370.7,85.6 L371.7,87.7 L371.4,90.3 L371.7,92.9 L372.2,95.6 L373.1,97.4 L373.2,100.0 L373.4,103.9 L373.7,107.9 L373.4,110.5 L371.9,112.8 L369.6,114.9 L367.8,116.8 L365.9,119.6 L364.7,122.0 L364.4,124.9 L364.4,135.3 L342.5,135.3Z" fill="none"/>
<path d="M371.3,4.5 L371.3,16.0 L372.8,17.6 L373.7,20.2 L374.6,22.8 L375.6,24.9 L376.3,27.0 L376.6,29.3 L376.9,31.9 L377.4,34.8 L377.7,36.7 L378.6,36.9 L379.9,36.4 L381.4,35.1 L383.7,33.5 L385.5,33.1 L386.7,31.4 L388.9,30.1 L390.7,28.8 L390.9,27.2 L392.6,25.9 L394.1,25.4 L395.3,24.1 L396.8,23.0 L397.9,20.7 L398.9,20.2 L399.1,17.6 L400.1,16.0 L400.9,4.5 L421.1,4.5 L421.4,16.0 L421.4,17.6 L421.5,20.2 L422.0,24.1 L422.4,28.0 L423.2,30.6 L423.9,33.3 L424.5,35.9 L425.3,38.5 L426.0,40.6 L426.6,43.7 L427.1,46.3 L427.6,47.9 L428.5,48.8 L429.4,47.9 L429.6,46.6 L430.8,45.6 L430.8,43.7 L432.0,42.9 L432.1,39.8 L432.0,38.5 L432.7,35.6 L432.4,31.9 L432.4,29.3 L433.5,28.5 L434.2,27.2 L435.7,26.2 L437.2,23.6 L438.4,22.0 L439.8,19.4 L441.0,18.1 L442.0,17.0 L442.8,14.9 L442.8,4.5 L451.0,4.5 L451.0,14.9 L451.6,17.0 L452.5,19.1 L453.5,20.7 L453.8,24.1 L453.7,27.5 L455.2,28.5 L456.2,27.2 L457.4,25.7 L458.3,26.7 L458.8,29.3 L459.2,33.3 L460.0,37.2 L460.1,39.8 L460.0,43.7 L459.7,46.3 L459.6,49.0 L460.3,49.7 L461.2,51.1 L461.8,52.4 L462.5,53.4 L462.7,55.5 L463.1,58.9 L463.7,61.3 L464.3,62.6 L465.5,64.1 L467.3,66.2 L468.0,66.5 L468.6,66.2 L468.2,63.9 L467.4,62.0 L467.3,59.4 L467.3,57.3 L466.8,55.8 L465.5,53.7 L464.7,52.4 L463.7,51.8 L462.9,50.8 L462.5,47.9 L462.1,45.6 L461.0,45.6 L461.0,42.9 L461.6,40.3 L462.1,38.0 L462.2,35.9 L462.6,34.6 L463.5,34.8 L463.5,36.7 L464.7,36.7 L465.6,38.0 L466.5,39.3 L466.8,41.4 L467.6,42.4 L468.8,42.5 L469.4,43.7 L469.7,46.3 L469.4,47.4 L470.1,46.9 L471.6,45.0 L472.4,42.9 L474.0,41.9 L475.5,40.3 L476.0,38.5 L476.3,36.1 L476.0,33.8 L475.5,30.1 L474.6,27.8 L473.6,26.4 L472.7,24.9 L471.9,23.3 L471.6,21.7 L470.9,20.2 L471.0,18.1 L472.1,16.8 L472.7,14.9 L472.7,4.5Z" fill="none"/>
<path d="M392.4,36.9 L393.2,36.5 L394.2,37.1 L393.2,37.7Z" fill="none"/>
<path d="M432.1,44.2 L432.7,45.0 L434.1,47.4 L435.0,50.3 L434.8,52.6 L433.9,53.9 L432.6,54.3 L432.1,52.1 L432.0,49.0 L432.1,46.6Z" fill="none"/>
<path d="M475.2,19.6 L476.4,22.3 L477.9,20.7 L478.7,18.6 L478.1,17.3 L476.4,17.8Z" fill="none"/>
<path d="M386.4,101.3 L387.3,104.5 L387.9,107.9 L388.2,110.2 L387.3,110.5 L387.1,113.6 L386.7,116.0 L386.2,118.6 L385.6,122.2 L385.2,124.9 L384.4,135.3 L379.2,135.3 L378.9,124.9 L379.0,122.2 L379.0,119.6 L378.4,117.0 L378.4,114.9 L379.2,112.3 L380.4,111.8 L381.9,111.0 L383.2,109.2 L384.3,108.1 L384.1,106.0 L385.2,105.0 L385.8,102.6Z" fill="none"/>
<path d="M451.7,34.8 L451.4,36.9 L451.2,39.3 L451.4,36.9Z" fill="none"/>
<path d="M455.2,55.4 L457.0,56.2 L458.5,56.3 L459.2,58.1 L460.3,60.0 L461.9,62.0 L462.8,63.4 L463.8,64.4 L464.9,65.5 L466.5,67.3 L467.3,68.6 L467.9,69.9 L467.4,71.7 L468.8,72.8 L468.9,74.6 L469.5,75.9 L471.2,77.8 L471.0,80.9 L470.9,83.5 L470.9,85.2 L470.1,85.1 L469.8,84.3 L468.9,85.1 L467.9,83.0 L466.5,81.2 L465.6,80.1 L464.4,77.5 L463.5,75.4 L462.7,72.5 L461.9,69.9 L460.9,69.1 L460.3,66.0 L458.9,63.9 L458.0,61.8 L456.5,59.7 L455.5,57.6 L455.0,55.8Z" fill="none"/>
<path d="M455.9,62.6 L456.8,63.5 L456.7,63.9 L455.9,63.1Z" fill="none"/>
<path d="M457.9,66.2 L459.1,68.3 L458.8,68.6 L457.7,66.8Z" fill="none"/>
<path d="M460.1,72.5 L461.2,74.3 L460.9,74.7 L460.1,73.3Z" fill="none"/>
<path d="M461.6,75.4 L462.8,77.8 L462.5,78.0 L461.6,76.1Z" fill="none"/>
<path d="M465.3,83.8 L465.8,84.3 L465.6,84.4Z" fill="none"/>
<path d="M470.0,74.3 L471.5,74.1 L472.2,76.7 L471.5,77.8 L470.9,75.9Z" fill="none"/>
<path d="M470.0,87.6 L471.2,85.3 L472.4,85.7 L473.9,86.1 L475.1,87.4 L476.4,87.8 L477.8,88.1 L478.5,86.7 L479.4,87.4 L481.0,88.0 L481.3,88.7 L482.4,90.1 L483.7,90.2 L483.9,92.4 L482.4,91.9 L480.9,91.9 L479.4,91.6 L477.9,91.1 L476.4,90.2 L474.9,90.2 L473.4,90.1 L471.9,89.3 L471.8,88.2 L470.4,87.8Z" fill="none"/>
<path d="M483.9,91.1 L485.5,91.4 L484.9,92.9Z" fill="none"/>
<path d="M486.1,91.6 L487.6,91.9 L489.1,91.1 L490.6,91.9 L490.6,92.9 L488.4,93.5 L486.1,93.2Z" fill="none"/>
<path d="M492.0,91.9 L493.6,91.9 L495.1,91.9 L496.5,91.4 L496.3,92.7 L494.4,93.2 L492.1,92.9Z" fill="none"/>
<path d="M490.6,94.5 L492.1,94.2 L493.3,96.1 L492.1,96.9 L490.9,95.6Z" fill="none"/>
<path d="M497.3,96.9 L498.8,94.0 L500.3,92.4 L502.6,91.8 L502.9,92.4 L501.1,94.2 L499.3,96.3 L497.6,97.1Z" fill="none"/>
<path d="M476.6,64.7 L477.6,65.5 L479.0,66.2 L479.3,63.6 L480.9,62.0 L482.4,60.2 L483.1,57.9 L484.5,56.8 L485.4,55.8 L486.3,53.9 L487.2,51.8 L488.1,52.6 L488.7,54.5 L489.3,54.6 L490.9,56.0 L490.0,58.1 L489.0,58.9 L488.7,60.7 L489.1,63.9 L490.5,67.3 L489.0,67.8 L488.4,69.9 L488.2,72.0 L487.3,73.3 L486.7,75.7 L486.9,77.8 L486.3,80.4 L484.2,80.6 L483.9,78.8 L482.4,78.5 L480.9,78.8 L479.7,77.8 L478.5,77.8 L477.5,76.4 L477.3,74.3 L477.0,72.5 L475.8,70.9 L475.8,69.1 L475.5,67.3 L475.7,65.7Z" fill="none"/>
<path d="M491.8,68.1 L493.5,66.5 L495.1,67.3 L496.9,67.4 L498.5,66.5 L499.7,65.7 L499.0,68.6 L498.1,68.9 L496.6,68.6 L495.1,68.7 L493.6,68.7 L492.4,69.4 L492.1,71.2 L493.2,73.3 L494.5,72.3 L496.2,72.0 L497.2,72.3 L496.3,73.8 L495.0,74.6 L494.4,75.1 L495.4,77.8 L496.0,79.8 L496.9,81.7 L496.5,82.7 L495.6,82.5 L494.5,80.9 L493.8,78.5 L493.5,77.0 L492.6,78.5 L492.7,81.7 L492.7,84.6 L491.4,84.3 L491.4,81.7 L491.4,79.1 L490.3,77.2 L490.9,75.1 L491.2,72.5 L491.8,69.9Z" fill="none"/>
<path d="M503.5,64.7 L504.1,67.3 L505.1,66.0 L505.1,68.6 L504.1,69.1 L504.4,71.7 L503.8,70.7 L503.3,67.8Z" fill="none"/>
<path d="M504.1,78.0 L506.3,77.2 L508.3,78.5 L507.1,79.3 L504.8,79.1Z" fill="none"/>
<path d="M501.1,78.3 L502.6,78.3 L502.7,79.6 L501.4,79.8Z" fill="none"/>
<path d="M493.0,21.5 L495.4,21.5 L495.6,25.4 L494.5,28.0 L494.5,30.6 L494.7,32.7 L495.9,33.3 L497.3,33.8 L498.2,35.9 L498.2,36.9 L497.1,35.9 L496.0,35.3 L494.8,33.8 L493.6,34.0 L493.0,32.7 L493.5,31.7 L492.9,31.9 L492.3,30.6 L492.0,27.5 L492.6,26.4 L492.7,24.1Z" fill="none"/>
<path d="M492.7,34.8 L493.9,34.8 L494.4,36.9 L493.8,38.0 L493.0,36.4Z" fill="none"/>
<path d="M487.9,47.9 L489.4,45.8 L491.1,42.4 L491.5,40.3 L490.9,41.9 L489.1,45.3 L487.9,47.4Z" fill="none"/>
<path d="M495.0,39.0 L496.6,39.8 L496.6,41.4 L495.3,42.4 L495.0,41.1Z" fill="none"/>
<path d="M496.3,41.4 L497.3,41.6 L497.1,44.2 L496.6,46.2 L495.9,44.8 L495.9,42.9Z" fill="none"/>
<path d="M497.2,42.9 L498.1,40.6 L498.1,42.4 L499.0,43.7 L498.1,44.8 L497.3,44.5Z" fill="none"/>
<path d="M498.5,37.2 L500.0,37.2 L500.6,40.6 L499.9,43.2 L499.3,43.5 L498.8,41.4 L499.4,39.8 L498.7,39.3Z" fill="none"/>
<path d="M500.2,44.5 L501.5,47.7 L501.8,51.1 L501.2,53.1 L500.5,52.6 L500.2,55.2 L499.6,54.5 L498.4,53.1 L498.1,51.1 L497.2,50.0 L495.4,51.6 L495.3,50.0 L495.6,49.0 L496.6,47.7 L497.8,48.7 L498.8,47.7 L499.6,46.3Z" fill="none"/>
<path d="M508.6,72.0 L510.8,70.9 L513.1,72.0 L513.4,73.8 L513.2,76.4 L514.0,78.5 L515.3,78.5 L516.8,75.7 L518.7,73.8 L520.5,75.1 L523.1,76.7 L525.0,77.8 L527.3,78.8 L528.9,80.1 L530.7,82.7 L530.7,84.0 L532.2,85.3 L533.5,85.6 L533.7,87.4 L532.5,87.7 L532.8,89.3 L534.0,91.1 L534.9,93.5 L536.2,95.0 L538.2,96.6 L538.3,97.6 L536.7,97.1 L534.7,96.3 L532.8,94.8 L531.5,92.4 L530.3,90.6 L528.8,89.8 L527.7,91.4 L527.0,93.2 L525.8,94.0 L524.3,93.7 L522.8,91.9 L521.3,91.1 L519.9,91.6 L519.0,91.9 L518.6,89.0 L519.9,87.7 L519.3,84.6 L517.8,82.7 L515.9,81.7 L514.0,80.4 L512.3,79.8 L511.3,80.4 L511.4,78.3 L512.5,76.7 L512.3,75.9 L510.5,75.7 L509.9,73.8 L508.6,73.6 L508.4,72.3Z" fill="none"/>
<path d="M513.4,84.3 L514.3,85.1 L514.0,87.7 L513.4,86.9Z" fill="none"/>
<path d="M534.4,84.6 L537.0,84.3 L539.2,83.8 L540.3,80.9 L539.7,82.7 L538.2,86.1 L536.2,86.1Z" fill="none"/>
<path d="M538.2,76.7 L540.7,79.8 L541.5,82.2 L540.9,80.9 L538.5,77.5Z" fill="none"/>
<path d="M543.9,84.3 L544.9,85.1 L545.8,87.7 L544.9,86.9Z" fill="none"/>
<path d="M546.7,87.4 L548.2,89.0 L547.9,89.5 L546.6,88.0Z" fill="none"/>
<path d="M549.5,89.8 L551.6,91.6 L551.3,92.1 L549.4,90.3Z" fill="none"/>
<path d="M551.3,94.2 L553.1,95.6 L552.7,96.1 L551.3,95.0Z" fill="none"/>
<path d="M553.0,91.9 L554.0,94.8 L553.6,95.0 L552.8,92.7Z" fill="none"/>
<path d="M554.0,96.6 L555.4,97.9 L554.9,98.3 L553.9,97.1Z" fill="none"/>
<path d="M561.8,108.4 L562.7,109.7 L562.4,111.0 L561.8,109.9Z" fill="none"/>
<path d="M562.7,111.8 L563.6,113.1 L563.2,113.4Z" fill="none"/>
<path d="M564.2,116.0 L564.8,116.2 L564.4,116.8Z" fill="none"/>
<path d="M565.7,118.8 L566.0,120.9 L565.9,121.2Z" fill="none"/>
<path d="M577.8,116.0 L579.2,115.4 L579.9,116.8 L578.9,117.8 L577.8,117.3Z" fill="none"/>
<path d="M579.8,113.9 L581.7,112.3 L581.9,113.1 L580.4,114.4Z" fill="none"/>
<path d="M592.6,105.2 L593.5,105.2 L593.5,106.0 L592.8,106.0Z" fill="none"/>
<path d="M593.8,106.0 L594.7,106.5 L594.0,106.7Z" fill="none"/>
<path d="M627.2,115.7 L627.9,116.0 L628.1,116.6 L627.3,116.5Z" fill="none"/>
<path d="M617.8,16.8 L619.1,17.6 L619.5,18.9 L618.8,20.2 L617.9,19.4Z" fill="none"/>
<path d="M616.7,15.2 L617.8,15.5 L617.2,16.0Z" fill="none"/>
<path d="M557.9,122.5 L559.4,124.1 L558.7,124.6 L557.6,123.0Z" fill="none"/>
<path d="M489.1,135.3 L489.1,123.3 L491.4,122.2 L493.6,121.2 L495.4,117.5 L495.6,114.4 L497.5,115.4 L497.5,113.1 L498.8,112.3 L499.4,109.9 L500.8,107.9 L502.3,106.5 L503.5,107.1 L504.4,108.9 L504.4,109.9 L505.6,108.9 L506.5,108.9 L506.2,107.1 L507.4,104.5 L507.7,102.9 L508.3,102.4 L509.3,101.8 L510.8,101.6 L511.0,99.7 L512.3,100.8 L514.1,101.6 L515.7,101.6 L517.2,101.8 L516.9,104.5 L515.9,105.5 L515.9,108.4 L515.1,109.2 L516.5,111.0 L518.0,112.0 L519.8,113.9 L521.0,115.4 L522.0,116.2 L523.2,115.7 L524.1,112.3 L524.6,109.2 L524.4,106.0 L524.6,102.9 L525.3,98.7 L525.8,97.9 L526.4,99.2 L527.0,102.4 L527.4,106.0 L528.9,107.6 L530.0,109.2 L530.3,112.6 L531.0,114.9 L531.3,118.3 L532.2,120.2 L533.7,121.7 L534.9,122.5 L535.8,124.9 L536.2,135.3Z" fill="none"/>
<path d="M507.2,99.7 L509.2,99.5 L508.9,100.8 L507.7,100.8Z" fill="none"/>
<path d="M516.6,106.0 L517.4,106.3 L517.1,107.3Z" fill="none"/>
<path d="M360.0,70.7 L362.0,69.4 L363.5,70.7 L363.5,73.0 L362.7,75.7 L360.9,76.7 L360.2,74.6Z" fill="none"/>
<path d="M363.5,95.0 L364.4,97.4 L363.9,100.8 L364.7,103.9 L365.3,107.1 L364.5,107.3 L364.1,103.9 L363.4,100.0 L363.6,97.1Z" fill="none"/>
<path d="M356.6,78.8 L357.1,83.0 L358.2,88.2 L359.1,92.7 L358.4,91.9 L357.4,88.2 L356.3,83.0Z" fill="none"/>
</g>
<g fill="#a82428">
<circle cx="410.9" cy="20.4" r="1.45"/>
<circle cx="423.2" cy="20.4" r="1.45"/>
<circle cx="435.5" cy="20.4" r="1.45"/>
<circle cx="447.9" cy="20.4" r="1.45"/>
<circle cx="460.2" cy="20.4" r="1.45"/>
<circle cx="472.5" cy="20.4" r="1.45"/>
<circle cx="509.5" cy="20.4" r="1.45"/>
<circle cx="521.8" cy="20.4" r="1.45"/>
<circle cx="534.2" cy="20.4" r="1.45"/>
<circle cx="546.5" cy="20.4" r="1.45"/>
<circle cx="558.8" cy="20.4" r="1.45"/>
<circle cx="571.1" cy="20.4" r="1.45"/>
<circle cx="583.5" cy="20.4" r="1.45"/>
<circle cx="595.8" cy="20.4" r="1.45"/>
<circle cx="608.1" cy="20.4" r="1.45"/>
<circle cx="620.5" cy="20.4" r="1.45"/>
<circle cx="632.8" cy="20.4" r="1.45"/>
<circle cx="645.1" cy="20.4" r="1.45"/>
<circle cx="657.5" cy="20.4" r="1.45"/>
<circle cx="669.8" cy="20.4" r="1.45"/>
<circle cx="380.0" cy="26.5" r="1.45"/>
<circle cx="404.7" cy="26.5" r="1.45"/>
<circle cx="417.0" cy="26.5" r="1.45"/>
<circle cx="429.3" cy="26.5" r="1.45"/>
<circle cx="441.7" cy="26.5" r="1.45"/>
<circle cx="454.0" cy="26.5" r="1.45"/>
<circle cx="466.3" cy="26.5" r="1.45"/>
<circle cx="478.7" cy="26.5" r="1.45"/>
<circle cx="515.7" cy="26.5" r="1.45"/>
<circle cx="528.0" cy="26.5" r="1.45"/>
<circle cx="540.3" cy="26.5" r="1.45"/>
<circle cx="552.6" cy="26.5" r="1.45"/>
<circle cx="565.0" cy="26.5" r="1.45"/>
<circle cx="577.3" cy="26.5" r="1.45"/>
<circle cx="589.6" cy="26.5" r="1.45"/>
<circle cx="602.0" cy="26.5" r="1.45"/>
<circle cx="614.3" cy="26.5" r="1.45"/>
<circle cx="626.6" cy="26.5" r="1.45"/>
<circle cx="639.0" cy="26.5" r="1.45"/>
<circle cx="651.3" cy="26.5" r="1.45"/>
<circle cx="663.6" cy="26.5" r="1.45"/>
<circle cx="398.5" cy="32.7" r="1.45"/>
<circle cx="410.9" cy="32.7" r="1.45"/>
<circle cx="423.2" cy="32.7" r="1.45"/>
<circle cx="435.5" cy="32.7" r="1.45"/>
<circle cx="447.9" cy="32.7" r="1.45"/>
<circle cx="460.2" cy="32.7" r="1.45"/>
<circle cx="472.5" cy="32.7" r="1.45"/>
<circle cx="484.8" cy="32.7" r="1.45"/>
<circle cx="509.5" cy="32.7" r="1.45"/>
<circle cx="521.8" cy="32.7" r="1.45"/>
<circle cx="534.2" cy="32.7" r="1.45"/>
<circle cx="546.5" cy="32.7" r="1.45"/>
<circle cx="558.8" cy="32.7" r="1.45"/>
<circle cx="571.1" cy="32.7" r="1.45"/>
<circle cx="583.5" cy="32.7" r="1.45"/>
<circle cx="595.8" cy="32.7" r="1.45"/>
<circle cx="608.1" cy="32.7" r="1.45"/>
<circle cx="620.5" cy="32.7" r="1.45"/>
<circle cx="632.8" cy="32.7" r="1.45"/>
<circle cx="645.1" cy="32.7" r="1.45"/>
<circle cx="657.5" cy="32.7" r="1.45"/>
<circle cx="669.8" cy="32.7" r="1.45"/>
<circle cx="404.7" cy="38.8" r="1.45"/>
<circle cx="417.0" cy="38.8" r="1.45"/>
<circle cx="429.3" cy="38.8" r="1.45"/>
<circle cx="441.7" cy="38.8" r="1.45"/>
<circle cx="454.0" cy="38.8" r="1.45"/>
<circle cx="466.3" cy="38.8" r="1.45"/>
<circle cx="478.7" cy="38.8" r="1.45"/>
<circle cx="515.7" cy="38.8" r="1.45"/>
<circle cx="528.0" cy="38.8" r="1.45"/>
<circle cx="540.3" cy="38.8" r="1.45"/>
<circle cx="552.6" cy="38.8" r="1.45"/>
<circle cx="565.0" cy="38.8" r="1.45"/>
<circle cx="577.3" cy="38.8" r="1.45"/>
<circle cx="589.6" cy="38.8" r="1.45"/>
<circle cx="602.0" cy="38.8" r="1.45"/>
<circle cx="614.3" cy="38.8" r="1.45"/>
<circle cx="626.6" cy="38.8" r="1.45"/>
<circle cx="639.0" cy="38.8" r="1.45"/>
<circle cx="651.3" cy="38.8" r="1.45"/>
<circle cx="663.6" cy="38.8" r="1.45"/>
<circle cx="410.9" cy="45.0" r="1.45"/>
<circle cx="423.2" cy="45.0" r="1.45"/>
<circle cx="435.5" cy="45.0" r="1.45"/>
<circle cx="447.9" cy="45.0" r="1.45"/>
<circle cx="460.2" cy="45.0" r="1.45"/>
<circle cx="472.5" cy="45.0" r="1.45"/>
<circle cx="484.8" cy="45.0" r="1.45"/>
<circle cx="521.8" cy="45.0" r="1.45"/>
<circle cx="534.2" cy="45.0" r="1.45"/>
<circle cx="546.5" cy="45.0" r="1.45"/>
<circle cx="558.8" cy="45.0" r="1.45"/>
<circle cx="571.1" cy="45.0" r="1.45"/>
<circle cx="583.5" cy="45.0" r="1.45"/>
<circle cx="595.8" cy="45.0" r="1.45"/>
<circle cx="608.1" cy="45.0" r="1.45"/>
<circle cx="620.5" cy="45.0" r="1.45"/>
<circle cx="632.8" cy="45.0" r="1.45"/>
<circle cx="645.1" cy="45.0" r="1.45"/>
<circle cx="657.5" cy="45.0" r="1.45"/>
<circle cx="669.8" cy="45.0" r="1.45"/>
<circle cx="417.0" cy="51.1" r="1.45"/>
<circle cx="429.3" cy="51.1" r="1.45"/>
<circle cx="441.7" cy="51.1" r="1.45"/>
<circle cx="454.0" cy="51.1" r="1.45"/>
<circle cx="466.3" cy="51.1" r="1.45"/>
<circle cx="478.7" cy="51.1" r="1.45"/>
<circle cx="491.0" cy="51.1" r="1.45"/>
<circle cx="528.0" cy="51.1" r="1.45"/>
<circle cx="540.3" cy="51.1" r="1.45"/>
<circle cx="552.6" cy="51.1" r="1.45"/>
<circle cx="565.0" cy="51.1" r="1.45"/>
<circle cx="577.3" cy="51.1" r="1.45"/>
<circle cx="589.6" cy="51.1" r="1.45"/>
<circle cx="602.0" cy="51.1" r="1.45"/>
<circle cx="614.3" cy="51.1" r="1.45"/>
<circle cx="626.6" cy="51.1" r="1.45"/>
<circle cx="639.0" cy="51.1" r="1.45"/>
<circle cx="651.3" cy="51.1" r="1.45"/>
<circle cx="663.6" cy="51.1" r="1.45"/>
<circle cx="435.5" cy="57.3" r="1.45"/>
<circle cx="447.9" cy="57.3" r="1.45"/>
<circle cx="460.2" cy="57.3" r="1.45"/>
<circle cx="472.5" cy="57.3" r="1.45"/>
<circle cx="484.8" cy="57.3" r="1.45"/>
<circle cx="497.2" cy="57.3" r="1.45"/>
<circle cx="509.5" cy="57.3" r="1.45"/>
<circle cx="546.5" cy="57.3" r="1.45"/>
<circle cx="558.8" cy="57.3" r="1.45"/>
<circle cx="571.1" cy="57.3" r="1.45"/>
<circle cx="583.5" cy="57.3" r="1.45"/>
<circle cx="595.8" cy="57.3" r="1.45"/>
<circle cx="608.1" cy="57.3" r="1.45"/>
<circle cx="620.5" cy="57.3" r="1.45"/>
<circle cx="632.8" cy="57.3" r="1.45"/>
<circle cx="645.1" cy="57.3" r="1.45"/>
<circle cx="657.5" cy="57.3" r="1.45"/>
<circle cx="669.8" cy="57.3" r="1.45"/>
<circle cx="392.4" cy="63.4" r="1.45"/>
<circle cx="441.7" cy="63.4" r="1.45"/>
<circle cx="454.0" cy="63.4" r="1.45"/>
<circle cx="466.3" cy="63.4" r="1.45"/>
<circle cx="478.7" cy="63.4" r="1.45"/>
<circle cx="491.0" cy="63.4" r="1.45"/>
<circle cx="503.3" cy="63.4" r="1.45"/>
<circle cx="515.7" cy="63.4" r="1.45"/>
<circle cx="528.0" cy="63.4" r="1.45"/>
<circle cx="540.3" cy="63.4" r="1.45"/>
<circle cx="589.6" cy="63.4" r="1.45"/>
<circle cx="602.0" cy="63.4" r="1.45"/>
<circle cx="614.3" cy="63.4" r="1.45"/>
<circle cx="626.6" cy="63.4" r="1.45"/>
<circle cx="639.0" cy="63.4" r="1.45"/>
<circle cx="651.3" cy="63.4" r="1.45"/>
<circle cx="663.6" cy="63.4" r="1.45"/>
<circle cx="373.9" cy="69.6" r="1.45"/>
<circle cx="386.2" cy="69.6" r="1.45"/>
<circle cx="398.5" cy="69.6" r="1.45"/>
<circle cx="410.9" cy="69.6" r="1.45"/>
<circle cx="423.2" cy="69.6" r="1.45"/>
<circle cx="472.5" cy="69.6" r="1.45"/>
<circle cx="484.8" cy="69.6" r="1.45"/>
<circle cx="497.2" cy="69.6" r="1.45"/>
<circle cx="509.5" cy="69.6" r="1.45"/>
<circle cx="521.8" cy="69.6" r="1.45"/>
<circle cx="534.2" cy="69.6" r="1.45"/>
<circle cx="546.5" cy="69.6" r="1.45"/>
<circle cx="558.8" cy="69.6" r="1.45"/>
<circle cx="571.1" cy="69.6" r="1.45"/>
<circle cx="583.5" cy="69.6" r="1.45"/>
<circle cx="595.8" cy="69.6" r="1.45"/>
<circle cx="367.7" cy="75.7" r="1.45"/>
<circle cx="380.0" cy="75.7" r="1.45"/>
<circle cx="392.4" cy="75.7" r="1.45"/>
<circle cx="404.7" cy="75.7" r="1.45"/>
<circle cx="417.0" cy="75.7" r="1.45"/>
<circle cx="429.3" cy="75.7" r="1.45"/>
<circle cx="441.7" cy="75.7" r="1.45"/>
<circle cx="454.0" cy="75.7" r="1.45"/>
<circle cx="478.7" cy="75.7" r="1.45"/>
<circle cx="491.0" cy="75.7" r="1.45"/>
<circle cx="503.3" cy="75.7" r="1.45"/>
<circle cx="515.7" cy="75.7" r="1.45"/>
<circle cx="528.0" cy="75.7" r="1.45"/>
<circle cx="540.3" cy="75.7" r="1.45"/>
<circle cx="552.6" cy="75.7" r="1.45"/>
<circle cx="565.0" cy="75.7" r="1.45"/>
<circle cx="577.3" cy="75.7" r="1.45"/>
<circle cx="589.6" cy="75.7" r="1.45"/>
<circle cx="602.0" cy="75.7" r="1.45"/>
<circle cx="614.3" cy="75.7" r="1.45"/>
<circle cx="626.6" cy="75.7" r="1.45"/>
<circle cx="639.0" cy="75.7" r="1.45"/>
<circle cx="361.5" cy="81.8" r="1.45"/>
<circle cx="373.9" cy="81.8" r="1.45"/>
<circle cx="386.2" cy="81.8" r="1.45"/>
<circle cx="398.5" cy="81.8" r="1.45"/>
<circle cx="410.9" cy="81.8" r="1.45"/>
<circle cx="423.2" cy="81.8" r="1.45"/>
<circle cx="435.5" cy="81.8" r="1.45"/>
<circle cx="447.9" cy="81.8" r="1.45"/>
<circle cx="460.2" cy="81.8" r="1.45"/>
<circle cx="484.8" cy="81.8" r="1.45"/>
<circle cx="497.2" cy="81.8" r="1.45"/>
<circle cx="509.5" cy="81.8" r="1.45"/>
<circle cx="521.8" cy="81.8" r="1.45"/>
<circle cx="534.2" cy="81.8" r="1.45"/>
<circle cx="546.5" cy="81.8" r="1.45"/>
<circle cx="558.8" cy="81.8" r="1.45"/>
<circle cx="571.1" cy="81.8" r="1.45"/>
<circle cx="583.5" cy="81.8" r="1.45"/>
<circle cx="595.8" cy="81.8" r="1.45"/>
<circle cx="608.1" cy="81.8" r="1.45"/>
<circle cx="620.5" cy="81.8" r="1.45"/>
<circle cx="632.8" cy="81.8" r="1.45"/>
<circle cx="645.1" cy="81.8" r="1.45"/>
<circle cx="657.5" cy="81.8" r="1.45"/>
<circle cx="367.7" cy="88.0" r="1.45"/>
<circle cx="380.0" cy="88.0" r="1.45"/>
<circle cx="392.4" cy="88.0" r="1.45"/>
<circle cx="404.7" cy="88.0" r="1.45"/>
<circle cx="417.0" cy="88.0" r="1.45"/>
<circle cx="429.3" cy="88.0" r="1.45"/>
<circle cx="441.7" cy="88.0" r="1.45"/>
<circle cx="454.0" cy="88.0" r="1.45"/>
<circle cx="466.3" cy="88.0" r="1.45"/>
<circle cx="503.3" cy="88.0" r="1.45"/>
<circle cx="515.7" cy="88.0" r="1.45"/>
<circle cx="528.0" cy="88.0" r="1.45"/>
<circle cx="540.3" cy="88.0" r="1.45"/>
<circle cx="552.6" cy="88.0" r="1.45"/>
<circle cx="565.0" cy="88.0" r="1.45"/>
<circle cx="577.3" cy="88.0" r="1.45"/>
<circle cx="589.6" cy="88.0" r="1.45"/>
<circle cx="602.0" cy="88.0" r="1.45"/>
<circle cx="614.3" cy="88.0" r="1.45"/>
<circle cx="626.6" cy="88.0" r="1.45"/>
<circle cx="639.0" cy="88.0" r="1.45"/>
<circle cx="651.3" cy="88.0" r="1.45"/>
<circle cx="663.6" cy="88.0" r="1.45"/>
<circle cx="361.5" cy="94.2" r="1.45"/>
<circle cx="373.9" cy="94.2" r="1.45"/>
<circle cx="386.2" cy="94.2" r="1.45"/>
<circle cx="398.5" cy="94.2" r="1.45"/>
<circle cx="410.9" cy="94.2" r="1.45"/>
<circle cx="423.2" cy="94.2" r="1.45"/>
<circle cx="435.5" cy="94.2" r="1.45"/>
<circle cx="447.9" cy="94.2" r="1.45"/>
<circle cx="460.2" cy="94.2" r="1.45"/>
<circle cx="472.5" cy="94.2" r="1.45"/>
<circle cx="509.5" cy="94.2" r="1.45"/>
<circle cx="521.8" cy="94.2" r="1.45"/>
<circle cx="534.2" cy="94.2" r="1.45"/>
<circle cx="546.5" cy="94.2" r="1.45"/>
<circle cx="558.8" cy="94.2" r="1.45"/>
<circle cx="571.1" cy="94.2" r="1.45"/>
<circle cx="583.5" cy="94.2" r="1.45"/>
<circle cx="595.8" cy="94.2" r="1.45"/>
<circle cx="608.1" cy="94.2" r="1.45"/>
<circle cx="620.5" cy="94.2" r="1.45"/>
<circle cx="632.8" cy="94.2" r="1.45"/>
<circle cx="645.1" cy="94.2" r="1.45"/>
<circle cx="657.5" cy="94.2" r="1.45"/>
<circle cx="669.8" cy="94.2" r="1.45"/>
<circle cx="367.7" cy="100.3" r="1.45"/>
<circle cx="380.0" cy="100.3" r="1.45"/>
<circle cx="392.4" cy="100.3" r="1.45"/>
<circle cx="404.7" cy="100.3" r="1.45"/>
<circle cx="417.0" cy="100.3" r="1.45"/>
<circle cx="429.3" cy="100.3" r="1.45"/>
<circle cx="441.7" cy="100.3" r="1.45"/>
<circle cx="454.0" cy="100.3" r="1.45"/>
<circle cx="466.3" cy="100.3" r="1.45"/>
<circle cx="478.7" cy="100.3" r="1.45"/>
<circle cx="515.7" cy="100.3" r="1.45"/>
<circle cx="528.0" cy="100.3" r="1.45"/>
<circle cx="540.3" cy="100.3" r="1.45"/>
<circle cx="552.6" cy="100.3" r="1.45"/>
<circle cx="565.0" cy="100.3" r="1.45"/>
<circle cx="577.3" cy="100.3" r="1.45"/>
<circle cx="589.6" cy="100.3" r="1.45"/>
<circle cx="602.0" cy="100.3" r="1.45"/>
<circle cx="614.3" cy="100.3" r="1.45"/>
<circle cx="626.6" cy="100.3" r="1.45"/>
<circle cx="639.0" cy="100.3" r="1.45"/>
<circle cx="651.3" cy="100.3" r="1.45"/>
<circle cx="663.6" cy="100.3" r="1.45"/>
<circle cx="398.5" cy="106.5" r="1.45"/>
<circle cx="410.9" cy="106.5" r="1.45"/>
<circle cx="423.2" cy="106.5" r="1.45"/>
<circle cx="435.5" cy="106.5" r="1.45"/>
<circle cx="447.9" cy="106.5" r="1.45"/>
<circle cx="460.2" cy="106.5" r="1.45"/>
<circle cx="472.5" cy="106.5" r="1.45"/>
<circle cx="521.8" cy="106.5" r="1.45"/>
<circle cx="534.2" cy="106.5" r="1.45"/>
<circle cx="546.5" cy="106.5" r="1.45"/>
<circle cx="558.8" cy="106.5" r="1.45"/>
<circle cx="571.1" cy="106.5" r="1.45"/>
<circle cx="583.5" cy="106.5" r="1.45"/>
<circle cx="595.8" cy="106.5" r="1.45"/>
<circle cx="608.1" cy="106.5" r="1.45"/>
<circle cx="620.5" cy="106.5" r="1.45"/>
<circle cx="632.8" cy="106.5" r="1.45"/>
<circle cx="645.1" cy="106.5" r="1.45"/>
<circle cx="657.5" cy="106.5" r="1.45"/>
<circle cx="669.8" cy="106.5" r="1.45"/>
<circle cx="404.7" cy="112.6" r="1.45"/>
<circle cx="417.0" cy="112.6" r="1.45"/>
<circle cx="429.3" cy="112.6" r="1.45"/>
<circle cx="441.7" cy="112.6" r="1.45"/>
<circle cx="454.0" cy="112.6" r="1.45"/>
<circle cx="466.3" cy="112.6" r="1.45"/>
<circle cx="478.7" cy="112.6" r="1.45"/>
<circle cx="528.0" cy="112.6" r="1.45"/>
<circle cx="540.3" cy="112.6" r="1.45"/>
<circle cx="552.6" cy="112.6" r="1.45"/>
<circle cx="565.0" cy="112.6" r="1.45"/>
<circle cx="577.3" cy="112.6" r="1.45"/>
<circle cx="589.6" cy="112.6" r="1.45"/>
<circle cx="602.0" cy="112.6" r="1.45"/>
<circle cx="614.3" cy="112.6" r="1.45"/>
<circle cx="626.6" cy="112.6" r="1.45"/>
<circle cx="639.0" cy="112.6" r="1.45"/>
<circle cx="651.3" cy="112.6" r="1.45"/>
<circle cx="663.6" cy="112.6" r="1.45"/>
<circle cx="423.2" cy="118.8" r="1.45"/>
<circle cx="435.5" cy="118.8" r="1.45"/>
<circle cx="447.9" cy="118.8" r="1.45"/>
<circle cx="460.2" cy="118.8" r="1.45"/>
<circle cx="472.5" cy="118.8" r="1.45"/>
<circle cx="534.2" cy="118.8" r="1.45"/>
<circle cx="546.5" cy="118.8" r="1.45"/>
<circle cx="558.8" cy="118.8" r="1.45"/>
<circle cx="571.1" cy="118.8" r="1.45"/>
<circle cx="583.5" cy="118.8" r="1.45"/>
<circle cx="595.8" cy="118.8" r="1.45"/>
<circle cx="608.1" cy="118.8" r="1.45"/>
<circle cx="620.5" cy="118.8" r="1.45"/>
<circle cx="632.8" cy="118.8" r="1.45"/>
<circle cx="645.1" cy="118.8" r="1.45"/>
<circle cx="657.5" cy="118.8" r="1.45"/>
<circle cx="669.8" cy="118.8" r="1.45"/>
</g>
</g>
<clipPath id="mcd"><rect x="357.50" y="169.55" width="314.10" height="104.65"/></clipPath>
<g clip-path="url(#mcd)">
<rect x="357.5" y="169.6" width="314.1" height="104.6" fill="#f7f4f2"/>
<g fill-rule="evenodd" stroke="none">
<path d="M359.0,274.2 364.4,274.2 361.0,266.4 359.5,263.7 357.5,261.1 357.5,274.2 359.0,274.2ZM492.1,274.2 671.6,274.2 671.6,231.3 668.6,232.1 665.6,232.6 658.1,233.0 644.7,232.9 631.2,232.3 622.2,231.2 598.3,226.9 586.3,225.5 581.9,224.6 578.9,223.6 568.4,219.3 553.4,214.6 537.0,210.9 519.0,206.0 488.7,199.6 483.3,198.3 479.2,197.0 474.2,194.5 469.7,191.0 466.6,187.9 456.4,176.1 455.5,174.8 455.1,173.5 455.8,172.2 459.4,169.6 432.3,169.6 429.3,171.9 427.8,173.4 420.8,182.6 411.4,193.1 410.0,195.7 409.9,197.0 410.0,198.3 411.3,200.9 414.5,204.9 418.5,208.8 421.8,211.4 423.9,212.7 429.3,215.2 454.7,224.9 459.2,227.2 462.7,229.7 466.4,233.6 471.8,241.5 477.2,248.0 479.0,250.7 480.4,253.3 483.1,260.1 484.6,263.0 486.1,264.5 492.1,267.1 494.5,269.0 495.0,270.3 494.8,271.6 493.7,272.9 492.1,274.2ZM363.5,190.7 365.0,190.8 365.8,190.5 366.5,189.9 366.8,189.2 367.0,187.9 366.4,185.2 363.5,179.2 362.6,176.1 362.2,172.2 362.5,170.9 363.4,169.6 357.5,169.6 357.5,187.2 362.0,190.0 363.5,190.7ZM667.1,176.4 668.6,177.0 670.1,177.1 671.6,176.4 671.6,169.6 664.8,169.6 664.7,172.2 665.1,173.5 665.6,174.8 667.1,176.4ZM372.5,169.6 376.9,169.9 380.0,169.6 372.5,169.6Z" fill="#fce9df"/>
<path d="M522.0,274.2 671.6,274.2 671.6,261.1 670.8,257.2 670.0,254.6 668.6,252.2 667.3,250.7 665.6,249.2 662.6,247.4 658.3,245.4 654.6,244.1 644.4,241.5 623.7,238.3 611.8,235.9 605.9,235.0 586.3,232.7 578.9,231.2 574.4,229.3 568.0,224.5 563.9,221.9 561.1,220.6 556.4,218.8 549.1,216.6 535.5,213.6 516.0,208.7 504.1,206.1 483.1,202.1 478.1,200.9 474.2,199.6 469.7,197.1 466.7,194.9 459.2,188.6 454.7,186.2 451.7,185.2 447.2,184.4 441.3,183.9 438.3,184.0 435.3,184.7 432.2,186.6 429.3,189.2 427.0,191.8 425.1,194.4 424.4,195.7 423.9,198.3 424.4,200.9 426.3,204.9 428.4,207.5 430.8,209.4 434.1,211.4 454.7,220.3 459.2,222.6 462.2,224.5 465.2,226.9 468.0,229.7 475.7,238.7 485.3,246.7 492.1,252.9 498.1,256.6 517.5,266.4 521.5,269.0 522.7,270.3 523.3,271.6 523.1,272.9 522.0,274.2Z" fill="#fddbc7"/>
<path d="M596.8,274.2 656.6,274.2 656.7,272.9 656.0,269.0 654.5,265.0 652.2,261.5 649.1,258.5 644.7,255.7 638.7,253.1 632.7,251.6 628.2,251.3 623.7,251.9 619.2,253.5 608.3,258.5 605.8,259.8 602.8,261.8 599.8,264.6 598.0,267.7 596.9,271.6 596.8,274.2ZM549.0,269.2 551.9,269.5 554.9,269.5 557.9,268.8 559.8,267.7 560.9,266.7 562.2,265.0 563.9,262.0 565.9,257.2 567.0,253.3 567.2,250.7 566.9,248.0 566.0,245.4 563.9,241.1 562.6,237.6 562.2,235.0 561.8,231.0 561.1,228.4 559.5,225.8 556.5,223.2 551.9,221.0 546.6,219.3 522.0,213.2 498.1,208.6 477.2,205.3 471.2,204.1 468.2,203.0 465.2,201.6 456.2,195.3 454.4,194.4 451.7,193.6 448.7,193.3 447.2,193.4 444.3,194.3 442.0,195.7 439.7,198.3 438.6,200.9 438.5,202.3 438.6,203.6 439.1,204.9 439.8,205.9 441.3,207.4 443.3,208.8 445.8,210.1 456.2,214.5 460.7,217.2 466.7,222.4 475.7,232.1 477.2,233.6 480.1,236.0 489.6,241.5 496.9,246.7 501.0,249.3 513.4,255.9 520.5,259.0 541.5,267.1 546.0,268.6 549.0,269.2Z" fill="#fcccb4"/>
<path d="M532.5,254.8 535.5,255.1 538.5,255.1 541.5,254.7 543.0,254.2 544.5,253.5 546.0,252.4 547.5,250.7 548.2,249.3 548.6,248.0 549.0,245.4 548.8,238.9 549.0,236.3 550.2,231.0 550.3,229.7 550.1,228.4 549.6,227.1 548.6,225.8 547.1,224.5 543.0,222.4 537.4,220.6 522.0,216.4 517.5,215.4 504.1,214.6 489.1,212.4 483.1,211.9 480.1,211.9 477.2,212.2 475.2,212.7 473.3,214.0 472.6,215.3 472.5,216.6 472.8,218.0 473.9,220.6 475.6,223.2 477.2,225.0 480.1,227.7 483.7,229.7 492.1,232.6 496.6,234.8 508.6,242.5 515.7,248.0 519.9,250.7 526.1,253.3 532.5,254.8Z" fill="#f7b89b"/>
<path d="M516.0,228.6 520.5,229.3 526.5,229.3 529.8,228.4 531.0,227.1 530.7,225.8 529.4,224.5 526.9,223.2 522.0,221.4 517.5,219.4 515.1,219.3 514.5,219.4 512.6,220.6 511.2,223.2 510.9,224.5 511.3,225.8 512.6,227.1 516.0,228.6Z" fill="#ea8b6e"/>
<path d="M456.2,270.4 459.2,270.3 460.7,269.9 462.2,269.2 463.7,267.8 465.2,265.6 466.1,263.7 467.5,259.8 468.2,257.2 468.5,253.3 468.2,250.7 467.6,248.0 465.0,240.2 463.8,237.6 462.2,235.0 459.7,232.3 457.7,230.8 454.7,229.1 450.2,227.3 433.8,222.3 420.3,219.6 417.3,218.6 415.8,217.9 413.8,216.6 411.3,214.5 401.9,204.9 399.8,202.3 399.1,200.9 398.4,198.3 398.4,197.0 398.7,195.7 399.3,194.4 401.7,191.8 409.9,185.5 413.9,181.3 415.8,178.7 417.9,174.8 418.8,172.2 419.3,169.6 392.3,169.6 389.6,173.5 384.2,183.9 382.5,187.9 380.2,194.4 378.8,197.0 376.9,199.2 375.4,200.3 374.1,200.9 372.5,201.4 369.5,201.7 365.0,200.8 362.0,199.4 360.5,198.5 357.5,195.7 357.5,253.3 362.0,255.1 369.5,259.8 372.5,261.1 375.4,261.5 378.4,260.9 382.9,258.7 385.9,256.5 388.0,254.6 390.4,251.5 395.7,242.8 397.9,240.4 399.4,239.2 400.9,238.2 403.9,236.9 406.9,236.4 409.9,236.4 412.8,237.2 414.3,237.9 417.3,240.2 420.3,244.0 425.4,253.3 427.1,255.9 429.3,258.5 432.3,261.1 436.8,264.0 442.8,266.8 450.2,269.2 456.2,270.4ZM626.7,225.9 632.7,226.1 640.2,225.9 647.7,225.1 653.7,224.1 658.1,222.6 661.1,220.9 662.9,219.3 664.4,216.6 665.4,212.7 665.5,208.8 665.2,204.9 664.3,200.9 662.3,197.0 655.1,188.2 653.2,185.2 651.9,182.6 650.9,180.0 649.8,176.1 649.4,172.2 649.4,169.6 468.9,169.6 467.3,172.2 466.7,174.8 466.7,176.1 467.2,178.7 468.4,181.3 470.9,185.2 474.2,188.8 477.2,191.0 480.1,192.7 484.6,194.4 493.7,197.0 501.1,198.8 523.5,203.2 538.4,207.5 566.9,214.8 583.4,217.8 596.8,219.4 614.8,224.0 620.7,225.1 626.7,225.9Z" fill="#e2edf3"/>
<path d="M444.3,252.4 447.2,252.9 450.2,252.4 451.7,251.7 453.2,250.7 454.5,249.3 456.2,247.1 457.6,244.1 458.0,241.5 457.6,238.9 456.3,236.3 455.1,235.0 453.2,233.6 450.2,232.2 446.4,231.0 442.8,230.5 438.3,230.5 435.8,231.0 433.7,232.3 432.7,233.6 432.3,235.0 432.1,236.3 432.3,238.9 433.5,242.8 435.3,246.0 438.3,249.3 441.3,251.2 444.3,252.4ZM359.0,218.0 361.4,216.6 363.2,215.3 364.3,214.0 365.0,212.7 365.2,211.4 365.0,210.1 364.3,208.8 357.5,201.8 357.5,218.8 359.0,218.0ZM566.9,210.2 569.9,210.3 572.3,210.1 576.1,208.8 577.5,207.5 578.0,206.2 577.8,204.9 577.1,203.6 575.9,202.3 574.0,200.9 569.9,199.2 565.4,198.1 553.4,196.1 550.4,195.2 547.5,193.6 546.0,192.2 541.2,186.6 538.6,183.9 534.0,180.5 526.8,176.1 525.4,174.8 525.2,173.5 525.8,172.2 528.7,169.6 477.2,169.6 475.7,171.0 474.1,173.5 473.8,174.8 473.8,177.4 474.6,180.0 475.7,181.9 477.2,183.7 479.0,185.2 481.6,186.8 484.1,187.9 490.6,190.0 502.1,194.4 507.1,195.7 516.0,197.0 532.5,198.1 538.5,198.9 543.0,200.4 556.9,207.5 560.9,208.9 566.9,210.2ZM399.4,182.8 400.9,182.9 402.4,182.6 405.3,181.3 407.0,180.0 409.3,177.4 410.5,174.8 410.8,173.5 410.7,172.2 410.2,170.9 408.7,169.6 400.7,169.6 398.8,170.9 397.6,172.2 396.3,174.8 395.9,177.4 395.9,178.7 396.2,180.0 397.0,181.3 397.9,182.1 399.4,182.8Z" fill="#d1e5f0"/>
</g>
<g stroke="#228b22" stroke-width="2.25" stroke-linejoin="round" stroke-linecap="round">
<path d="M342.5,156.5 L368.3,156.5 L368.3,168.2 L368.4,171.6 L369.9,174.3 L370.8,177.4 L371.4,180.0 L372.3,181.6 L373.7,183.2 L375.0,185.5 L376.2,187.1 L377.1,188.9 L377.4,190.5 L376.5,191.5 L377.4,192.0 L378.3,194.1 L379.8,194.7 L381.4,193.8 L382.9,192.8 L384.4,192.7 L385.9,192.3 L387.4,191.8 L388.6,190.6 L389.4,190.9 L389.2,192.8 L388.8,194.9 L388.0,197.8 L387.1,200.9 L386.1,204.1 L384.9,208.0 L383.7,210.9 L382.2,214.0 L380.4,216.6 L378.4,219.3 L376.3,222.7 L374.9,226.1 L373.8,227.9 L372.8,229.5 L371.9,232.9 L371.1,235.0 L370.7,237.6 L371.7,239.7 L371.4,242.3 L371.7,244.9 L372.2,247.5 L373.1,249.3 L373.2,252.0 L373.4,255.9 L373.7,259.8 L373.4,262.4 L371.9,264.8 L369.6,266.9 L367.8,268.7 L365.9,271.6 L364.7,273.9 L364.4,276.8 L364.4,287.3 L342.5,287.3Z" fill="none"/>
<path d="M371.3,156.5 L371.3,168.0 L372.8,169.6 L373.7,172.2 L374.6,174.8 L375.6,176.9 L376.3,179.0 L376.6,181.3 L376.9,183.9 L377.4,186.8 L377.7,188.6 L378.6,188.9 L379.9,188.4 L381.4,187.1 L383.7,185.5 L385.5,185.1 L386.7,183.4 L388.9,182.1 L390.7,180.8 L390.9,179.2 L392.6,177.9 L394.1,177.4 L395.3,176.1 L396.8,175.0 L397.9,172.7 L398.9,172.2 L399.1,169.6 L400.1,168.0 L400.9,156.5 L421.1,156.5 L421.4,168.0 L421.4,169.6 L421.5,172.2 L422.0,176.1 L422.4,180.0 L423.2,182.6 L423.9,185.2 L424.5,187.9 L425.3,190.5 L426.0,192.6 L426.6,195.7 L427.1,198.3 L427.6,199.9 L428.5,200.8 L429.4,199.9 L429.6,198.6 L430.8,197.5 L430.8,195.7 L432.0,194.9 L432.1,191.8 L432.0,190.5 L432.7,187.6 L432.4,183.9 L432.4,181.3 L433.5,180.5 L434.2,179.2 L435.7,178.2 L437.2,175.6 L438.4,174.0 L439.8,171.4 L441.0,170.1 L442.0,169.0 L442.8,166.9 L442.8,156.5 L451.0,156.5 L451.0,166.9 L451.6,169.0 L452.5,171.1 L453.5,172.7 L453.8,176.1 L453.7,179.5 L455.2,180.5 L456.2,179.2 L457.4,177.7 L458.3,178.7 L458.8,181.3 L459.2,185.2 L460.0,189.2 L460.1,191.8 L460.0,195.7 L459.7,198.3 L459.6,200.9 L460.3,201.7 L461.2,203.0 L461.8,204.3 L462.5,205.4 L462.7,207.5 L463.1,210.9 L463.7,213.2 L464.3,214.5 L465.5,216.1 L467.3,218.2 L468.0,218.5 L468.6,218.2 L468.2,215.9 L467.4,214.0 L467.3,211.4 L467.3,209.3 L466.8,207.7 L465.5,205.7 L464.7,204.3 L463.7,203.8 L462.9,202.8 L462.5,199.9 L462.1,197.5 L461.0,197.5 L461.0,194.9 L461.6,192.3 L462.1,190.0 L462.2,187.9 L462.6,186.6 L463.5,186.8 L463.5,188.6 L464.7,188.6 L465.6,190.0 L466.5,191.3 L466.8,193.4 L467.6,194.4 L468.8,194.5 L469.4,195.7 L469.7,198.3 L469.4,199.4 L470.1,198.9 L471.6,197.0 L472.4,194.9 L474.0,193.9 L475.5,192.3 L476.0,190.5 L476.3,188.1 L476.0,185.8 L475.5,182.1 L474.6,179.8 L473.6,178.4 L472.7,176.9 L471.9,175.3 L471.6,173.7 L470.9,172.2 L471.0,170.1 L472.1,168.8 L472.7,166.9 L472.7,156.5Z" fill="none"/>
<path d="M392.4,188.9 L393.2,188.5 L394.2,189.0 L393.2,189.7Z" fill="none"/>
<path d="M432.1,196.2 L432.7,197.0 L434.1,199.4 L435.0,202.3 L434.8,204.6 L433.9,205.9 L432.6,206.3 L432.1,204.1 L432.0,200.9 L432.1,198.6Z" fill="none"/>
<path d="M475.2,171.6 L476.4,174.3 L477.9,172.7 L478.7,170.6 L478.1,169.3 L476.4,169.8Z" fill="none"/>
<path d="M386.4,253.3 L387.3,256.4 L387.9,259.8 L388.2,262.2 L387.3,262.4 L387.1,265.6 L386.7,267.9 L386.2,270.5 L385.6,274.2 L385.2,276.8 L384.4,287.3 L379.2,287.3 L378.9,276.8 L379.0,274.2 L379.0,271.6 L378.4,269.0 L378.4,266.9 L379.2,264.3 L380.4,263.7 L381.9,263.0 L383.2,261.1 L384.3,260.1 L384.1,258.0 L385.2,256.9 L385.8,254.6Z" fill="none"/>
<path d="M451.7,186.8 L451.4,188.9 L451.2,191.3 L451.4,188.9Z" fill="none"/>
<path d="M455.2,207.4 L457.0,208.1 L458.5,208.3 L459.2,210.1 L460.3,211.9 L461.9,214.0 L462.8,215.3 L463.8,216.4 L464.9,217.4 L466.5,219.3 L467.3,220.6 L467.9,221.9 L467.4,223.7 L468.8,224.8 L468.9,226.6 L469.5,227.9 L471.2,229.7 L471.0,232.9 L470.9,235.5 L470.9,237.2 L470.1,237.0 L469.8,236.3 L468.9,237.0 L467.9,235.0 L466.5,233.1 L465.6,232.1 L464.4,229.5 L463.5,227.4 L462.7,224.5 L461.9,221.9 L460.9,221.1 L460.3,218.0 L458.9,215.9 L458.0,213.8 L456.5,211.7 L455.5,209.6 L455.0,207.7Z" fill="none"/>
<path d="M455.9,214.5 L456.8,215.5 L456.7,215.9 L455.9,215.1Z" fill="none"/>
<path d="M457.9,218.2 L459.1,220.3 L458.8,220.6 L457.7,218.7Z" fill="none"/>
<path d="M460.1,224.5 L461.2,226.3 L460.9,226.7 L460.1,225.3Z" fill="none"/>
<path d="M461.6,227.4 L462.8,229.7 L462.5,230.0 L461.6,228.0Z" fill="none"/>
<path d="M465.3,235.7 L465.8,236.3 L465.6,236.4Z" fill="none"/>
<path d="M470.0,226.3 L471.5,226.1 L472.2,228.7 L471.5,229.7 L470.9,227.9Z" fill="none"/>
<path d="M470.0,239.5 L471.2,237.3 L472.4,237.7 L473.9,238.1 L475.1,239.4 L476.4,239.8 L477.8,240.1 L478.5,238.6 L479.4,239.4 L481.0,239.9 L481.3,240.7 L482.4,242.0 L483.7,242.2 L483.9,244.4 L482.4,243.9 L480.9,243.9 L479.4,243.6 L477.9,243.1 L476.4,242.2 L474.9,242.2 L473.4,242.0 L471.9,241.2 L471.8,240.2 L470.4,239.8Z" fill="none"/>
<path d="M483.9,243.1 L485.5,243.3 L484.9,244.9Z" fill="none"/>
<path d="M486.1,243.6 L487.6,243.9 L489.1,243.1 L490.6,243.9 L490.6,244.9 L488.4,245.4 L486.1,245.2Z" fill="none"/>
<path d="M492.0,243.9 L493.6,243.9 L495.1,243.9 L496.5,243.3 L496.3,244.6 L494.4,245.2 L492.1,244.9Z" fill="none"/>
<path d="M490.6,246.5 L492.1,246.2 L493.3,248.0 L492.1,248.8 L490.9,247.5Z" fill="none"/>
<path d="M497.3,248.8 L498.8,245.9 L500.3,244.4 L502.6,243.7 L502.9,244.4 L501.1,246.2 L499.3,248.3 L497.6,249.1Z" fill="none"/>
<path d="M476.6,216.6 L477.6,217.4 L479.0,218.2 L479.3,215.6 L480.9,214.0 L482.4,212.2 L483.1,209.8 L484.5,208.8 L485.4,207.7 L486.3,205.9 L487.2,203.8 L488.1,204.6 L488.7,206.4 L489.3,206.6 L490.9,208.0 L490.0,210.1 L489.0,210.9 L488.7,212.7 L489.1,215.9 L490.5,219.3 L489.0,219.8 L488.4,221.9 L488.2,224.0 L487.3,225.3 L486.7,227.6 L486.9,229.7 L486.3,232.3 L484.2,232.6 L483.9,230.8 L482.4,230.5 L480.9,230.8 L479.7,229.7 L478.5,229.7 L477.5,228.4 L477.3,226.3 L477.0,224.5 L475.8,222.9 L475.8,221.1 L475.5,219.3 L475.7,217.7Z" fill="none"/>
<path d="M491.8,220.0 L493.5,218.5 L495.1,219.3 L496.9,219.4 L498.5,218.5 L499.7,217.7 L499.0,220.6 L498.1,220.8 L496.6,220.6 L495.1,220.7 L493.6,220.7 L492.4,221.4 L492.1,223.2 L493.2,225.3 L494.5,224.2 L496.2,224.0 L497.2,224.2 L496.3,225.8 L495.0,226.6 L494.4,227.1 L495.4,229.7 L496.0,231.8 L496.9,233.6 L496.5,234.7 L495.6,234.4 L494.5,232.9 L493.8,230.5 L493.5,228.9 L492.6,230.5 L492.7,233.6 L492.7,236.5 L491.4,236.3 L491.4,233.6 L491.4,231.0 L490.3,229.2 L490.9,227.1 L491.2,224.5 L491.8,221.9Z" fill="none"/>
<path d="M503.5,216.6 L504.1,219.3 L505.1,218.0 L505.1,220.6 L504.1,221.1 L504.4,223.7 L503.8,222.7 L503.3,219.8Z" fill="none"/>
<path d="M504.1,230.0 L506.3,229.2 L508.3,230.5 L507.1,231.3 L504.8,231.0Z" fill="none"/>
<path d="M501.1,230.2 L502.6,230.2 L502.7,231.6 L501.4,231.8Z" fill="none"/>
<path d="M493.0,173.5 L495.4,173.5 L495.6,177.4 L494.5,180.0 L494.5,182.6 L494.7,184.7 L495.9,185.2 L497.3,185.8 L498.2,187.9 L498.2,188.9 L497.1,187.9 L496.0,187.3 L494.8,185.8 L493.6,186.0 L493.0,184.7 L493.5,183.7 L492.9,183.9 L492.3,182.6 L492.0,179.5 L492.6,178.4 L492.7,176.1Z" fill="none"/>
<path d="M492.7,186.8 L493.9,186.8 L494.4,188.9 L493.8,190.0 L493.0,188.4Z" fill="none"/>
<path d="M487.9,199.9 L489.4,197.8 L491.1,194.4 L491.5,192.3 L490.9,193.9 L489.1,197.3 L487.9,199.4Z" fill="none"/>
<path d="M495.0,191.0 L496.6,191.8 L496.6,193.4 L495.3,194.4 L495.0,193.1Z" fill="none"/>
<path d="M496.3,193.4 L497.3,193.6 L497.1,196.2 L496.6,198.2 L495.9,196.8 L495.9,194.9Z" fill="none"/>
<path d="M497.2,194.9 L498.1,192.6 L498.1,194.4 L499.0,195.7 L498.1,196.8 L497.3,196.5Z" fill="none"/>
<path d="M498.5,189.2 L500.0,189.2 L500.6,192.6 L499.9,195.2 L499.3,195.5 L498.8,193.4 L499.4,191.8 L498.7,191.3Z" fill="none"/>
<path d="M500.2,196.5 L501.5,199.6 L501.8,203.0 L501.2,205.1 L500.5,204.6 L500.2,207.2 L499.6,206.4 L498.4,205.1 L498.1,203.0 L497.2,202.0 L495.4,203.6 L495.3,202.0 L495.6,200.9 L496.6,199.6 L497.8,200.7 L498.8,199.6 L499.6,198.3Z" fill="none"/>
<path d="M508.6,224.0 L510.8,222.9 L513.1,224.0 L513.4,225.8 L513.2,228.4 L514.0,230.5 L515.3,230.5 L516.8,227.6 L518.7,225.8 L520.5,227.1 L523.1,228.7 L525.0,229.7 L527.3,230.8 L528.9,232.1 L530.7,234.7 L530.7,236.0 L532.2,237.3 L533.5,237.6 L533.7,239.4 L532.5,239.7 L532.8,241.2 L534.0,243.1 L534.9,245.4 L536.2,247.0 L538.2,248.6 L538.3,249.6 L536.7,249.1 L534.7,248.3 L532.8,246.7 L531.5,244.4 L530.3,242.5 L528.8,241.8 L527.7,243.3 L527.0,245.2 L525.8,245.9 L524.3,245.7 L522.8,243.9 L521.3,243.1 L519.9,243.6 L519.0,243.9 L518.6,241.0 L519.9,239.7 L519.3,236.5 L517.8,234.7 L515.9,233.6 L514.0,232.3 L512.3,231.8 L511.3,232.3 L511.4,230.2 L512.5,228.7 L512.3,227.9 L510.5,227.6 L509.9,225.8 L508.6,225.5 L508.4,224.2Z" fill="none"/>
<path d="M513.4,236.3 L514.3,237.0 L514.0,239.7 L513.4,238.9Z" fill="none"/>
<path d="M534.4,236.5 L537.0,236.3 L539.2,235.7 L540.3,232.9 L539.7,234.7 L538.2,238.1 L536.2,238.1Z" fill="none"/>
<path d="M538.2,228.7 L540.7,231.8 L541.5,234.2 L540.9,232.9 L538.5,229.5Z" fill="none"/>
<path d="M543.9,236.3 L544.9,237.0 L545.8,239.7 L544.9,238.9Z" fill="none"/>
<path d="M546.7,239.4 L548.2,241.0 L547.9,241.5 L546.6,239.9Z" fill="none"/>
<path d="M549.5,241.8 L551.6,243.6 L551.3,244.1 L549.4,242.3Z" fill="none"/>
<path d="M551.3,246.2 L553.1,247.5 L552.7,248.0 L551.3,247.0Z" fill="none"/>
<path d="M553.0,243.9 L554.0,246.7 L553.6,247.0 L552.8,244.6Z" fill="none"/>
<path d="M554.0,248.6 L555.4,249.9 L554.9,250.3 L553.9,249.1Z" fill="none"/>
<path d="M561.8,260.3 L562.7,261.6 L562.4,263.0 L561.8,261.9Z" fill="none"/>
<path d="M562.7,263.7 L563.6,265.0 L563.2,265.3Z" fill="none"/>
<path d="M564.2,267.9 L564.8,268.2 L564.4,268.7Z" fill="none"/>
<path d="M565.7,270.8 L566.0,272.9 L565.9,273.2Z" fill="none"/>
<path d="M577.8,267.9 L579.2,267.4 L579.9,268.7 L578.9,269.8 L577.8,269.2Z" fill="none"/>
<path d="M579.8,265.8 L581.7,264.3 L581.9,265.0 L580.4,266.4Z" fill="none"/>
<path d="M592.6,257.2 L593.5,257.2 L593.5,258.0 L592.8,258.0Z" fill="none"/>
<path d="M593.8,258.0 L594.7,258.5 L594.0,258.6Z" fill="none"/>
<path d="M627.2,267.7 L627.9,267.9 L628.1,268.6 L627.3,268.4Z" fill="none"/>
<path d="M617.8,168.8 L619.1,169.6 L619.5,170.9 L618.8,172.2 L617.9,171.4Z" fill="none"/>
<path d="M616.7,167.2 L617.8,167.5 L617.2,168.0Z" fill="none"/>
<path d="M557.9,274.5 L559.4,276.0 L558.7,276.6 L557.6,275.0Z" fill="none"/>
<path d="M489.1,287.3 L489.1,275.2 L491.4,274.2 L493.6,273.2 L495.4,269.5 L495.6,266.4 L497.5,267.4 L497.5,265.0 L498.8,264.3 L499.4,261.9 L500.8,259.8 L502.3,258.5 L503.5,259.0 L504.4,260.9 L504.4,261.9 L505.6,260.9 L506.5,260.9 L506.2,259.0 L507.4,256.4 L507.7,254.8 L508.3,254.3 L509.3,253.8 L510.8,253.5 L511.0,251.7 L512.3,252.7 L514.1,253.5 L515.7,253.5 L517.2,253.8 L516.9,256.4 L515.9,257.5 L515.9,260.3 L515.1,261.1 L516.5,263.0 L518.0,264.0 L519.8,265.8 L521.0,267.4 L522.0,268.2 L523.2,267.7 L524.1,264.3 L524.6,261.1 L524.4,258.0 L524.6,254.8 L525.3,250.7 L525.8,249.9 L526.4,251.2 L527.0,254.3 L527.4,258.0 L528.9,259.5 L530.0,261.1 L530.3,264.5 L531.0,266.9 L531.3,270.3 L532.2,272.1 L533.7,273.7 L534.9,274.5 L535.8,276.8 L536.2,287.3Z" fill="none"/>
<path d="M507.2,251.7 L509.2,251.4 L508.9,252.7 L507.7,252.7Z" fill="none"/>
<path d="M516.6,258.0 L517.4,258.2 L517.1,259.3Z" fill="none"/>
<path d="M360.0,222.7 L362.0,221.4 L363.5,222.7 L363.5,225.0 L362.7,227.6 L360.9,228.7 L360.2,226.6Z" fill="none"/>
<path d="M363.5,247.0 L364.4,249.3 L363.9,252.7 L364.7,255.9 L365.3,259.0 L364.5,259.3 L364.1,255.9 L363.4,252.0 L363.6,249.1Z" fill="none"/>
<path d="M356.6,230.8 L357.1,235.0 L358.2,240.2 L359.1,244.6 L358.4,243.9 L357.4,240.2 L356.3,235.0Z" fill="none"/>
</g>
<g fill="#a82428">
<circle cx="404.5" cy="174.2" r="1.45"/>
<circle cx="453.7" cy="198.8" r="1.45"/>
<circle cx="447.6" cy="204.9" r="1.45"/>
<circle cx="459.9" cy="204.9" r="1.45"/>
<circle cx="453.7" cy="211.2" r="1.45"/>
<circle cx="466.0" cy="211.2" r="1.45"/>
<circle cx="478.3" cy="211.2" r="1.45"/>
<circle cx="490.6" cy="211.2" r="1.45"/>
<circle cx="502.9" cy="211.2" r="1.45"/>
<circle cx="515.2" cy="211.2" r="1.45"/>
<circle cx="472.2" cy="217.3" r="1.45"/>
<circle cx="484.5" cy="217.3" r="1.45"/>
<circle cx="496.8" cy="217.3" r="1.45"/>
<circle cx="509.1" cy="217.3" r="1.45"/>
<circle cx="521.4" cy="217.3" r="1.45"/>
<circle cx="533.7" cy="217.3" r="1.45"/>
<circle cx="502.9" cy="223.5" r="1.45"/>
<circle cx="527.5" cy="223.5" r="1.45"/>
<circle cx="539.8" cy="223.5" r="1.45"/>
<circle cx="435.3" cy="229.8" r="1.45"/>
<circle cx="496.8" cy="229.8" r="1.45"/>
<circle cx="521.4" cy="229.8" r="1.45"/>
<circle cx="533.7" cy="229.8" r="1.45"/>
<circle cx="546.0" cy="229.8" r="1.45"/>
<circle cx="441.4" cy="235.9" r="1.45"/>
<circle cx="502.9" cy="235.9" r="1.45"/>
<circle cx="515.2" cy="235.9" r="1.45"/>
<circle cx="527.5" cy="235.9" r="1.45"/>
<circle cx="447.6" cy="242.1" r="1.45"/>
<circle cx="509.1" cy="242.1" r="1.45"/>
<circle cx="521.4" cy="242.1" r="1.45"/>
<circle cx="533.7" cy="242.1" r="1.45"/>
<circle cx="546.0" cy="242.1" r="1.45"/>
<circle cx="527.5" cy="248.2" r="1.45"/>
<circle cx="539.8" cy="248.2" r="1.45"/>
<circle cx="521.4" cy="254.3" r="1.45"/>
<circle cx="533.7" cy="254.3" r="1.45"/>
<circle cx="546.0" cy="254.3" r="1.45"/>
<circle cx="539.8" cy="260.5" r="1.45"/>
</g>
</g>
<rect x="45.50" y="15.30" width="213.40" height="106.35" fill="none" stroke="#000" stroke-width="1.5"/>
<line x1="41.30" y1="15.30" x2="48.90" y2="15.30" stroke="#000" stroke-width="1.3"/>
<text x="41.30" y="19.80" font-size="11.15" text-anchor="end" >20N</text>
<line x1="41.30" y1="41.89" x2="48.90" y2="41.89" stroke="#000" stroke-width="1.3"/>
<text x="41.30" y="46.39" font-size="11.15" text-anchor="end" >10N</text>
<line x1="41.30" y1="68.48" x2="48.90" y2="68.48" stroke="#000" stroke-width="1.3"/>
<text x="41.30" y="72.98" font-size="11.15" text-anchor="end" >0</text>
<line x1="41.30" y1="95.06" x2="48.90" y2="95.06" stroke="#000" stroke-width="1.3"/>
<text x="41.30" y="99.56" font-size="11.15" text-anchor="end" >10S</text>
<line x1="41.30" y1="121.65" x2="48.90" y2="121.65" stroke="#000" stroke-width="1.3"/>
<text x="41.30" y="126.15" font-size="11.15" text-anchor="end" >20S</text>
<text x="45.50" y="134.85" font-size="11.15" text-anchor="middle" >40E</text>
<line x1="106.47" y1="121.15" x2="106.47" y2="125.65" stroke="#000" stroke-width="1.3"/>
<text x="106.47" y="134.85" font-size="11.15" text-anchor="middle" >60E</text>
<line x1="167.44" y1="121.15" x2="167.44" y2="125.65" stroke="#000" stroke-width="1.3"/>
<text x="167.44" y="134.85" font-size="11.15" text-anchor="middle" >80E</text>
<line x1="228.41" y1="121.15" x2="228.41" y2="125.65" stroke="#000" stroke-width="1.3"/>
<text x="228.41" y="134.85" font-size="11.15" text-anchor="middle" >100E</text>
<text x="45.20" y="10.00" font-size="13.0" text-anchor="start" >a</text>
<text x="59.70" y="10.00" font-size="13.0" text-anchor="start" >EOF2</text>
<text x="259.20" y="10.00" font-size="13.0" text-anchor="end" >10.9%</text>
<rect x="45.50" y="167.30" width="213.40" height="106.35" fill="none" stroke="#000" stroke-width="1.5"/>
<line x1="41.30" y1="167.30" x2="48.90" y2="167.30" stroke="#000" stroke-width="1.3"/>
<text x="41.30" y="171.80" font-size="11.15" text-anchor="end" >20N</text>
<line x1="41.30" y1="193.89" x2="48.90" y2="193.89" stroke="#000" stroke-width="1.3"/>
<text x="41.30" y="198.39" font-size="11.15" text-anchor="end" >10N</text>
<line x1="41.30" y1="220.47" x2="48.90" y2="220.47" stroke="#000" stroke-width="1.3"/>
<text x="41.30" y="224.97" font-size="11.15" text-anchor="end" >0</text>
<line x1="41.30" y1="247.06" x2="48.90" y2="247.06" stroke="#000" stroke-width="1.3"/>
<text x="41.30" y="251.56" font-size="11.15" text-anchor="end" >10S</text>
<line x1="41.30" y1="273.65" x2="48.90" y2="273.65" stroke="#000" stroke-width="1.3"/>
<text x="41.30" y="278.15" font-size="11.15" text-anchor="end" >20S</text>
<text x="45.50" y="286.85" font-size="11.15" text-anchor="middle" >40E</text>
<line x1="106.47" y1="273.15" x2="106.47" y2="277.65" stroke="#000" stroke-width="1.3"/>
<text x="106.47" y="286.85" font-size="11.15" text-anchor="middle" >60E</text>
<line x1="167.44" y1="273.15" x2="167.44" y2="277.65" stroke="#000" stroke-width="1.3"/>
<text x="167.44" y="286.85" font-size="11.15" text-anchor="middle" >80E</text>
<line x1="228.41" y1="273.15" x2="228.41" y2="277.65" stroke="#000" stroke-width="1.3"/>
<text x="228.41" y="286.85" font-size="11.15" text-anchor="middle" >100E</text>
<text x="45.20" y="162.00" font-size="13.0" text-anchor="start" >b</text>
<text x="59.70" y="162.00" font-size="13.0" text-anchor="start" >EOF3</text>
<text x="259.20" y="162.00" font-size="13.0" text-anchor="end" >8.1%</text>
<rect x="357.50" y="17.55" width="314.10" height="104.70" fill="none" stroke="#000" stroke-width="1.5"/>
<line x1="353.30" y1="17.55" x2="360.90" y2="17.55" stroke="#000" stroke-width="1.3"/>
<text x="353.30" y="22.05" font-size="11.15" text-anchor="end" >20N</text>
<line x1="353.30" y1="43.73" x2="360.90" y2="43.73" stroke="#000" stroke-width="1.3"/>
<text x="353.30" y="48.23" font-size="11.15" text-anchor="end" >10N</text>
<line x1="353.30" y1="69.90" x2="360.90" y2="69.90" stroke="#000" stroke-width="1.3"/>
<text x="353.30" y="74.40" font-size="11.15" text-anchor="end" >0</text>
<line x1="353.30" y1="96.08" x2="360.90" y2="96.08" stroke="#000" stroke-width="1.3"/>
<text x="353.30" y="100.58" font-size="11.15" text-anchor="end" >10S</text>
<line x1="353.30" y1="122.25" x2="360.90" y2="122.25" stroke="#000" stroke-width="1.3"/>
<text x="353.30" y="126.75" font-size="11.15" text-anchor="end" >20S</text>
<line x1="357.50" y1="121.75" x2="357.50" y2="126.25" stroke="#000" stroke-width="1.3"/>
<text x="357.50" y="135.45" font-size="11.15" text-anchor="middle" >30E</text>
<line x1="402.37" y1="121.75" x2="402.37" y2="126.25" stroke="#000" stroke-width="1.3"/>
<text x="402.37" y="135.45" font-size="11.15" text-anchor="middle" >60E</text>
<line x1="447.24" y1="121.75" x2="447.24" y2="126.25" stroke="#000" stroke-width="1.3"/>
<text x="447.24" y="135.45" font-size="11.15" text-anchor="middle" >90E</text>
<line x1="492.11" y1="121.75" x2="492.11" y2="126.25" stroke="#000" stroke-width="1.3"/>
<text x="492.11" y="135.45" font-size="11.15" text-anchor="middle" >120E</text>
<line x1="536.99" y1="121.75" x2="536.99" y2="126.25" stroke="#000" stroke-width="1.3"/>
<text x="536.99" y="135.45" font-size="11.15" text-anchor="middle" >150E</text>
<line x1="581.86" y1="121.75" x2="581.86" y2="126.25" stroke="#000" stroke-width="1.3"/>
<text x="581.86" y="135.45" font-size="11.15" text-anchor="middle" >180</text>
<line x1="626.73" y1="121.75" x2="626.73" y2="126.25" stroke="#000" stroke-width="1.3"/>
<text x="626.73" y="135.45" font-size="11.15" text-anchor="middle" >150W</text>
<line x1="671.60" y1="121.75" x2="671.60" y2="126.25" stroke="#000" stroke-width="1.3"/>
<text x="671.60" y="135.45" font-size="11.15" text-anchor="middle" >120W</text>
<text x="357.20" y="10.00" font-size="12.95" text-anchor="start" >c</text>
<text x="371.40" y="10.00" font-size="12.95" text-anchor="start" >Regressed with PC2 (SON)</text>
<rect x="357.50" y="169.55" width="314.10" height="104.65" fill="none" stroke="#000" stroke-width="1.5"/>
<line x1="353.30" y1="169.55" x2="360.90" y2="169.55" stroke="#000" stroke-width="1.3"/>
<text x="353.30" y="174.05" font-size="11.15" text-anchor="end" >20N</text>
<line x1="353.30" y1="195.71" x2="360.90" y2="195.71" stroke="#000" stroke-width="1.3"/>
<text x="353.30" y="200.21" font-size="11.15" text-anchor="end" >10N</text>
<line x1="353.30" y1="221.88" x2="360.90" y2="221.88" stroke="#000" stroke-width="1.3"/>
<text x="353.30" y="226.38" font-size="11.15" text-anchor="end" >0</text>
<line x1="353.30" y1="248.04" x2="360.90" y2="248.04" stroke="#000" stroke-width="1.3"/>
<text x="353.30" y="252.54" font-size="11.15" text-anchor="end" >10S</text>
<line x1="353.30" y1="274.20" x2="360.90" y2="274.20" stroke="#000" stroke-width="1.3"/>
<text x="353.30" y="278.70" font-size="11.15" text-anchor="end" >20S</text>
<line x1="357.50" y1="273.70" x2="357.50" y2="278.20" stroke="#000" stroke-width="1.3"/>
<text x="357.50" y="287.40" font-size="11.15" text-anchor="middle" >30E</text>
<line x1="402.37" y1="273.70" x2="402.37" y2="278.20" stroke="#000" stroke-width="1.3"/>
<text x="402.37" y="287.40" font-size="11.15" text-anchor="middle" >60E</text>
<line x1="447.24" y1="273.70" x2="447.24" y2="278.20" stroke="#000" stroke-width="1.3"/>
<text x="447.24" y="287.40" font-size="11.15" text-anchor="middle" >90E</text>
<line x1="492.11" y1="273.70" x2="492.11" y2="278.20" stroke="#000" stroke-width="1.3"/>
<text x="492.11" y="287.40" font-size="11.15" text-anchor="middle" >120E</text>
<line x1="536.99" y1="273.70" x2="536.99" y2="278.20" stroke="#000" stroke-width="1.3"/>
<text x="536.99" y="287.40" font-size="11.15" text-anchor="middle" >150E</text>
<line x1="581.86" y1="273.70" x2="581.86" y2="278.20" stroke="#000" stroke-width="1.3"/>
<text x="581.86" y="287.40" font-size="11.15" text-anchor="middle" >180</text>
<line x1="626.73" y1="273.70" x2="626.73" y2="278.20" stroke="#000" stroke-width="1.3"/>
<text x="626.73" y="287.40" font-size="11.15" text-anchor="middle" >150W</text>
<line x1="671.60" y1="273.70" x2="671.60" y2="278.20" stroke="#000" stroke-width="1.3"/>
<text x="671.60" y="287.40" font-size="11.15" text-anchor="middle" >120W</text>
<text x="357.20" y="162.00" font-size="12.95" text-anchor="start" >d</text>
<text x="371.40" y="162.00" font-size="12.95" text-anchor="start" >Regressed with PC3 (JAS)</text>
<rect x="27.20" y="305.8" width="12.50" height="11.60" fill="#2a70b2"/>
<rect x="41.40" y="305.8" width="12.50" height="11.60" fill="#3c88be"/>
<rect x="55.60" y="305.8" width="12.50" height="11.60" fill="#589ec9"/>
<rect x="69.80" y="305.8" width="12.50" height="11.60" fill="#7cb6d5"/>
<rect x="84.00" y="305.8" width="12.50" height="11.60" fill="#9ecae0"/>
<rect x="98.20" y="305.8" width="12.50" height="11.60" fill="#bddae9"/>
<rect x="112.40" y="305.8" width="12.50" height="11.60" fill="#d1e5f0"/>
<rect x="126.60" y="305.8" width="12.50" height="11.60" fill="#e2edf3"/>
<rect x="140.80" y="305.8" width="12.50" height="11.60" fill="#f7f4f2"/>
<rect x="155.00" y="305.8" width="12.50" height="11.60" fill="#fce9df"/>
<rect x="169.20" y="305.8" width="12.50" height="11.60" fill="#fddbc7"/>
<rect x="183.40" y="305.8" width="12.50" height="11.60" fill="#fcccb4"/>
<rect x="197.60" y="305.8" width="12.50" height="11.60" fill="#f7b89b"/>
<rect x="211.80" y="305.8" width="12.50" height="11.60" fill="#ea8b6e"/>
<rect x="226.00" y="305.8" width="12.50" height="11.60" fill="#d25a4b"/>
<rect x="240.20" y="305.8" width="12.50" height="11.60" fill="#bd2c34"/>
<text x="54.75" y="330.00" font-size="10.6" text-anchor="middle" >-0.048</text>
<text x="97.35" y="330.00" font-size="10.6" text-anchor="middle" >-0.024</text>
<text x="139.95" y="330.00" font-size="10.6" text-anchor="middle" >0</text>
<text x="182.55" y="330.00" font-size="10.6" text-anchor="middle" >0.024</text>
<text x="225.15" y="330.00" font-size="10.6" text-anchor="middle" >0.048</text>
<rect x="362.40" y="305.8" width="15.28" height="11.60" fill="#2a70b2"/>
<rect x="379.38" y="305.8" width="15.28" height="11.60" fill="#3c88be"/>
<rect x="396.36" y="305.8" width="15.28" height="11.60" fill="#589ec9"/>
<rect x="413.34" y="305.8" width="15.28" height="11.60" fill="#7cb6d5"/>
<rect x="430.32" y="305.8" width="15.28" height="11.60" fill="#9ecae0"/>
<rect x="447.30" y="305.8" width="15.28" height="11.60" fill="#bddae9"/>
<rect x="464.28" y="305.8" width="15.28" height="11.60" fill="#d1e5f0"/>
<rect x="481.26" y="305.8" width="15.28" height="11.60" fill="#e2edf3"/>
<rect x="498.24" y="305.8" width="15.28" height="11.60" fill="#f7f4f2"/>
<rect x="515.22" y="305.8" width="15.28" height="11.60" fill="#fce9df"/>
<rect x="532.20" y="305.8" width="15.28" height="11.60" fill="#fddbc7"/>
<rect x="549.18" y="305.8" width="15.28" height="11.60" fill="#fcccb4"/>
<rect x="566.16" y="305.8" width="15.28" height="11.60" fill="#f7b89b"/>
<rect x="583.14" y="305.8" width="15.28" height="11.60" fill="#ea8b6e"/>
<rect x="600.12" y="305.8" width="15.28" height="11.60" fill="#d25a4b"/>
<rect x="617.10" y="305.8" width="15.28" height="11.60" fill="#bd2c34"/>
<rect x="634.08" y="305.8" width="15.28" height="11.60" fill="#bd2c34"/>
<rect x="651.06" y="305.8" width="15.28" height="11.60" fill="#bd2c34"/>
<text x="378.53" y="330.00" font-size="10.6" text-anchor="middle" >-0.8</text>
<text x="412.49" y="330.00" font-size="10.6" text-anchor="middle" >-0.6</text>
<text x="446.45" y="330.00" font-size="10.6" text-anchor="middle" >-0.4</text>
<text x="480.41" y="330.00" font-size="10.6" text-anchor="middle" >-0.2</text>
<text x="514.37" y="330.00" font-size="10.6" text-anchor="middle" >0</text>
<text x="548.33" y="330.00" font-size="10.6" text-anchor="middle" >0.2</text>
<text x="582.29" y="330.00" font-size="10.6" text-anchor="middle" >0.4</text>
<text x="616.25" y="330.00" font-size="10.6" text-anchor="middle" >0.6</text>
<text x="650.21" y="330.00" font-size="10.6" text-anchor="middle" >0.8</text>
<line x1="39.9" y1="497.40" x2="334.4" y2="497.40" stroke="#2b2b2b" stroke-width="1.0" stroke-dasharray="10,4.3"/>
<clipPath id="clip39"><rect x="38.3" y="392.29999999999995" width="297.7" height="158.00000000000006"/></clipPath>
<g clip-path="url(#clip39)">
<polyline points="39.90,438.66 64.44,427.57 88.98,408.61 113.53,409.12 138.07,431.57 162.61,458.66 187.15,511.68 211.69,538.77 236.23,544.31 260.77,535.28 285.32,518.26 309.86,505.23 334.40,504.71" fill="none" stroke="#7badd1" stroke-width="3.15" stroke-linejoin="round"/>
<circle cx="39.90" cy="438.66" r="4.8" fill="#7badd1"/>
<circle cx="64.44" cy="427.57" r="4.8" fill="#7badd1"/>
<circle cx="88.98" cy="408.61" r="4.8" fill="#7badd1"/>
<circle cx="113.53" cy="409.12" r="4.8" fill="#7badd1"/>
<circle cx="138.07" cy="431.57" r="4.8" fill="#7badd1"/>
<circle cx="162.61" cy="458.66" r="4.8" fill="#7badd1"/>
<circle cx="187.15" cy="511.68" r="4.8" fill="#7badd1"/>
<circle cx="211.69" cy="538.77" r="4.8" fill="#7badd1"/>
<circle cx="236.23" cy="544.31" r="4.8" fill="#7badd1"/>
<circle cx="260.77" cy="535.28" r="4.8" fill="#7badd1"/>
<circle cx="285.32" cy="518.26" r="4.8" fill="#7badd1"/>
<circle cx="309.86" cy="505.23" r="4.8" fill="#7badd1"/>
<circle cx="334.40" cy="504.71" r="4.8" fill="#7badd1"/>
<polyline points="39.90,465.24 64.44,469.24 88.98,478.65 113.53,490.26 138.07,478.14 162.61,483.17 187.15,495.68 211.69,507.68 236.23,500.20 260.77,488.20 285.32,521.22 309.86,538.25 334.40,534.77" fill="none" stroke="#fa8072" stroke-width="3.15" stroke-linejoin="round"/>
<circle cx="39.90" cy="465.24" r="4.8" fill="#fa8072"/>
<circle cx="64.44" cy="469.24" r="4.8" fill="#fa8072"/>
<circle cx="88.98" cy="478.65" r="4.8" fill="#fa8072"/>
<circle cx="113.53" cy="490.26" r="4.8" fill="#fa8072"/>
<circle cx="138.07" cy="478.14" r="4.8" fill="#fa8072"/>
<circle cx="162.61" cy="483.17" r="4.8" fill="#fa8072"/>
<circle cx="187.15" cy="495.68" r="4.8" fill="#fa8072"/>
<circle cx="211.69" cy="507.68" r="4.8" fill="#fa8072"/>
<circle cx="236.23" cy="500.20" r="4.8" fill="#fa8072"/>
<circle cx="260.77" cy="488.20" r="4.8" fill="#fa8072"/>
<circle cx="285.32" cy="521.22" r="4.8" fill="#fa8072"/>
<circle cx="309.86" cy="538.25" r="4.8" fill="#fa8072"/>
<circle cx="334.40" cy="534.77" r="4.8" fill="#fa8072"/>
</g>
<line x1="39.9" y1="526.77" x2="334.4" y2="526.77" stroke="#c8666a" stroke-opacity="0.75" stroke-width="1.1"/>
<line x1="39.9" y1="467.43" x2="334.4" y2="467.43" stroke="#a02a2e" stroke-width="1.0"/>
<rect x="39.9" y="393.9" width="294.5" height="154.80000000000007" fill="none" stroke="#000" stroke-width="1.5"/>
<line x1="35.60" y1="393.90" x2="42.50" y2="393.90" stroke="#000" stroke-width="1.4"/>
<text x="35.50" y="398.80" font-size="13.8" text-anchor="end" >0.8</text>
<line x1="35.60" y1="419.70" x2="42.50" y2="419.70" stroke="#000" stroke-width="1.4"/>
<text x="35.50" y="424.60" font-size="13.8" text-anchor="end" >0.6</text>
<line x1="35.60" y1="445.50" x2="42.50" y2="445.50" stroke="#000" stroke-width="1.4"/>
<text x="35.50" y="450.40" font-size="13.8" text-anchor="end" >0.4</text>
<line x1="35.60" y1="471.30" x2="42.50" y2="471.30" stroke="#000" stroke-width="1.4"/>
<text x="35.50" y="476.20" font-size="13.8" text-anchor="end" >0.2</text>
<line x1="35.60" y1="497.10" x2="42.50" y2="497.10" stroke="#000" stroke-width="1.4"/>
<text x="35.50" y="502.00" font-size="13.8" text-anchor="end" >0</text>
<line x1="35.60" y1="522.90" x2="42.50" y2="522.90" stroke="#000" stroke-width="1.4"/>
<text x="35.50" y="527.80" font-size="13.8" text-anchor="end" >-0.2</text>
<line x1="35.60" y1="548.70" x2="42.50" y2="548.70" stroke="#000" stroke-width="1.4"/>
<text x="35.50" y="553.60" font-size="13.8" text-anchor="end" >-0.4</text>
<line x1="39.90" y1="546.40" x2="39.90" y2="552.30" stroke="#000" stroke-width="1.4"/>
<text x="38.40" y="564.30" font-size="13.8" text-anchor="middle" >-6</text>
<line x1="64.44" y1="546.40" x2="64.44" y2="552.30" stroke="#000" stroke-width="1.4"/>
<text x="62.94" y="564.30" font-size="13.8" text-anchor="middle" >-5</text>
<line x1="88.98" y1="546.40" x2="88.98" y2="552.30" stroke="#000" stroke-width="1.4"/>
<text x="87.48" y="564.30" font-size="13.8" text-anchor="middle" >-4</text>
<line x1="113.53" y1="546.40" x2="113.53" y2="552.30" stroke="#000" stroke-width="1.4"/>
<text x="112.03" y="564.30" font-size="13.8" text-anchor="middle" >-3</text>
<line x1="138.07" y1="546.40" x2="138.07" y2="552.30" stroke="#000" stroke-width="1.4"/>
<text x="136.57" y="564.30" font-size="13.8" text-anchor="middle" >-2</text>
<line x1="162.61" y1="546.40" x2="162.61" y2="552.30" stroke="#000" stroke-width="1.4"/>
<text x="161.11" y="564.30" font-size="13.8" text-anchor="middle" >-1</text>
<line x1="187.15" y1="546.40" x2="187.15" y2="552.30" stroke="#000" stroke-width="1.4"/>
<text x="187.15" y="564.30" font-size="13.8" text-anchor="middle" >0</text>
<line x1="211.69" y1="546.40" x2="211.69" y2="552.30" stroke="#000" stroke-width="1.4"/>
<text x="211.69" y="564.30" font-size="13.8" text-anchor="middle" >1</text>
<line x1="236.23" y1="546.40" x2="236.23" y2="552.30" stroke="#000" stroke-width="1.4"/>
<text x="236.23" y="564.30" font-size="13.8" text-anchor="middle" >2</text>
<line x1="260.77" y1="546.40" x2="260.77" y2="552.30" stroke="#000" stroke-width="1.4"/>
<text x="260.77" y="564.30" font-size="13.8" text-anchor="middle" >3</text>
<line x1="285.32" y1="546.40" x2="285.32" y2="552.30" stroke="#000" stroke-width="1.4"/>
<text x="285.32" y="564.30" font-size="13.8" text-anchor="middle" >4</text>
<line x1="309.86" y1="546.40" x2="309.86" y2="552.30" stroke="#000" stroke-width="1.4"/>
<text x="309.86" y="564.30" font-size="13.8" text-anchor="middle" >5</text>
<line x1="334.40" y1="546.40" x2="334.40" y2="552.30" stroke="#000" stroke-width="1.4"/>
<text x="334.40" y="564.30" font-size="13.8" text-anchor="middle" >6</text>
<text x="39.40" y="385.70" font-size="13.8" text-anchor="start" xml:space="preserve">e  Corr (Niño34&amp;IOD/IOT)</text>
<text x="187.15" y="583.00" font-size="13.8" text-anchor="middle" xml:space="preserve">Niño34  lag   and   Niño34   lead</text>
<text transform="translate(11.4,472.8) rotate(-90)" font-size="14.2" text-anchor="middle">Correlation Coefficient</text>
<line x1="223.7" y1="406.8" x2="248.4" y2="406.8" stroke="#7badd1" stroke-width="3.6" stroke-linecap="round"/>
<line x1="223.7" y1="425.7" x2="248.4" y2="425.7" stroke="#fa8072" stroke-width="3.6" stroke-linecap="round"/>
<text x="252.00" y="411.00" font-size="12.7" text-anchor="start" >PC2 (IOD)</text>
<text x="252.00" y="429.60" font-size="12.7" text-anchor="start" >PC3 (IOT)</text>
<line x1="373.0" y1="455.88" x2="667.6" y2="455.88" stroke="#2b2b2b" stroke-width="1.0" stroke-dasharray="10,4.3"/>
<clipPath id="clip373"><rect x="371.4" y="392.29999999999995" width="297.8" height="157.90000000000003"/></clipPath>
<g clip-path="url(#clip373)">
<polyline points="373.00,490.74 397.55,465.37 422.10,472.80 446.65,454.85 471.20,464.75 495.75,463.36 520.30,465.84 544.85,444.33 569.40,439.85 593.95,447.43 618.50,454.39 643.05,458.41 667.60,421.44" fill="none" stroke="#7badd1" stroke-width="3.15" stroke-linejoin="round"/>
<circle cx="373.00" cy="490.74" r="4.8" fill="#7badd1"/>
<circle cx="397.55" cy="465.37" r="4.8" fill="#7badd1"/>
<circle cx="422.10" cy="472.80" r="4.8" fill="#7badd1"/>
<circle cx="446.65" cy="454.85" r="4.8" fill="#7badd1"/>
<circle cx="471.20" cy="464.75" r="4.8" fill="#7badd1"/>
<circle cx="495.75" cy="463.36" r="4.8" fill="#7badd1"/>
<circle cx="520.30" cy="465.84" r="4.8" fill="#7badd1"/>
<circle cx="544.85" cy="444.33" r="4.8" fill="#7badd1"/>
<circle cx="569.40" cy="439.85" r="4.8" fill="#7badd1"/>
<circle cx="593.95" cy="447.43" r="4.8" fill="#7badd1"/>
<circle cx="618.50" cy="454.39" r="4.8" fill="#7badd1"/>
<circle cx="643.05" cy="458.41" r="4.8" fill="#7badd1"/>
<circle cx="667.60" cy="421.44" r="4.8" fill="#7badd1"/>
<polyline points="373.00,458.87 397.55,452.84 422.10,473.26 446.65,448.82 471.20,440.93 495.75,463.82 520.30,488.27 544.85,509.77 569.40,517.35 593.95,519.21 618.50,511.78 643.05,491.83 667.60,472.80" fill="none" stroke="#fa8072" stroke-width="3.15" stroke-linejoin="round"/>
<circle cx="373.00" cy="458.87" r="4.8" fill="#fa8072"/>
<circle cx="397.55" cy="452.84" r="4.8" fill="#fa8072"/>
<circle cx="422.10" cy="473.26" r="4.8" fill="#fa8072"/>
<circle cx="446.65" cy="448.82" r="4.8" fill="#fa8072"/>
<circle cx="471.20" cy="440.93" r="4.8" fill="#fa8072"/>
<circle cx="495.75" cy="463.82" r="4.8" fill="#fa8072"/>
<circle cx="520.30" cy="488.27" r="4.8" fill="#fa8072"/>
<circle cx="544.85" cy="509.77" r="4.8" fill="#fa8072"/>
<circle cx="569.40" cy="517.35" r="4.8" fill="#fa8072"/>
<circle cx="593.95" cy="519.21" r="4.8" fill="#fa8072"/>
<circle cx="618.50" cy="511.78" r="4.8" fill="#fa8072"/>
<circle cx="643.05" cy="491.83" r="4.8" fill="#fa8072"/>
<circle cx="667.60" cy="472.80" r="4.8" fill="#fa8072"/>
</g>
<line x1="373.0" y1="491.36" x2="667.6" y2="491.36" stroke="#c24a4e" stroke-opacity="1.0" stroke-width="1.1"/>
<line x1="373.0" y1="420.20" x2="667.6" y2="420.20" stroke="#c24a4e" stroke-width="1.0"/>
<rect x="373.0" y="393.9" width="294.6" height="154.70000000000005" fill="none" stroke="#000" stroke-width="1.5"/>
<line x1="368.70" y1="393.90" x2="375.60" y2="393.90" stroke="#000" stroke-width="1.4"/>
<text x="368.60" y="398.80" font-size="13.8" text-anchor="end" >0.4</text>
<line x1="368.70" y1="424.84" x2="375.60" y2="424.84" stroke="#000" stroke-width="1.4"/>
<text x="368.60" y="429.74" font-size="13.8" text-anchor="end" >0.2</text>
<line x1="368.70" y1="455.78" x2="375.60" y2="455.78" stroke="#000" stroke-width="1.4"/>
<text x="368.60" y="460.68" font-size="13.8" text-anchor="end" >0</text>
<line x1="368.70" y1="486.72" x2="375.60" y2="486.72" stroke="#000" stroke-width="1.4"/>
<text x="368.60" y="491.62" font-size="13.8" text-anchor="end" >-0.2</text>
<line x1="368.70" y1="517.66" x2="375.60" y2="517.66" stroke="#000" stroke-width="1.4"/>
<text x="368.60" y="522.56" font-size="13.8" text-anchor="end" >-0.4</text>
<line x1="368.70" y1="548.60" x2="375.60" y2="548.60" stroke="#000" stroke-width="1.4"/>
<text x="368.60" y="553.50" font-size="13.8" text-anchor="end" >-0.6</text>
<line x1="373.00" y1="546.30" x2="373.00" y2="552.20" stroke="#000" stroke-width="1.4"/>
<text x="371.50" y="564.20" font-size="13.8" text-anchor="middle" >-6</text>
<line x1="397.55" y1="546.30" x2="397.55" y2="552.20" stroke="#000" stroke-width="1.4"/>
<text x="396.05" y="564.20" font-size="13.8" text-anchor="middle" >-5</text>
<line x1="422.10" y1="546.30" x2="422.10" y2="552.20" stroke="#000" stroke-width="1.4"/>
<text x="420.60" y="564.20" font-size="13.8" text-anchor="middle" >-4</text>
<line x1="446.65" y1="546.30" x2="446.65" y2="552.20" stroke="#000" stroke-width="1.4"/>
<text x="445.15" y="564.20" font-size="13.8" text-anchor="middle" >-3</text>
<line x1="471.20" y1="546.30" x2="471.20" y2="552.20" stroke="#000" stroke-width="1.4"/>
<text x="469.70" y="564.20" font-size="13.8" text-anchor="middle" >-2</text>
<line x1="495.75" y1="546.30" x2="495.75" y2="552.20" stroke="#000" stroke-width="1.4"/>
<text x="494.25" y="564.20" font-size="13.8" text-anchor="middle" >-1</text>
<line x1="520.30" y1="546.30" x2="520.30" y2="552.20" stroke="#000" stroke-width="1.4"/>
<text x="520.30" y="564.20" font-size="13.8" text-anchor="middle" >0</text>
<line x1="544.85" y1="546.30" x2="544.85" y2="552.20" stroke="#000" stroke-width="1.4"/>
<text x="544.85" y="564.20" font-size="13.8" text-anchor="middle" >1</text>
<line x1="569.40" y1="546.30" x2="569.40" y2="552.20" stroke="#000" stroke-width="1.4"/>
<text x="569.40" y="564.20" font-size="13.8" text-anchor="middle" >2</text>
<line x1="593.95" y1="546.30" x2="593.95" y2="552.20" stroke="#000" stroke-width="1.4"/>
<text x="593.95" y="564.20" font-size="13.8" text-anchor="middle" >3</text>
<line x1="618.50" y1="546.30" x2="618.50" y2="552.20" stroke="#000" stroke-width="1.4"/>
<text x="618.50" y="564.20" font-size="13.8" text-anchor="middle" >4</text>
<line x1="643.05" y1="546.30" x2="643.05" y2="552.20" stroke="#000" stroke-width="1.4"/>
<text x="643.05" y="564.20" font-size="13.8" text-anchor="middle" >5</text>
<line x1="667.60" y1="546.30" x2="667.60" y2="552.20" stroke="#000" stroke-width="1.4"/>
<text x="667.60" y="564.20" font-size="13.8" text-anchor="middle" >6</text>
<text x="372.50" y="385.70" font-size="13.8" text-anchor="start" xml:space="preserve">f  Corr (AM&amp;IOD/IOT)</text>
<text x="520.30" y="583.00" font-size="13.8" text-anchor="middle" xml:space="preserve">AM   lag   and   AM   lead</text>
</svg></body></html>
